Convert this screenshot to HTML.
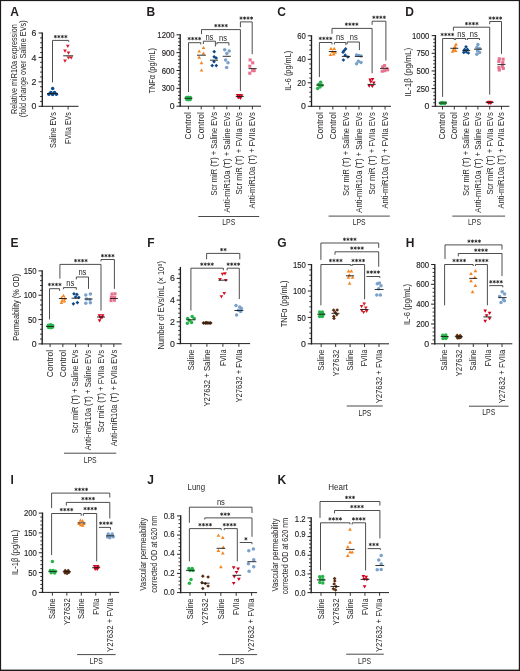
<!DOCTYPE html>
<html><head><meta charset="utf-8"><style>
html,body{margin:0;padding:0;background:#fff;}
svg{display:block;will-change:transform;}
text{font-family:"Liberation Sans",sans-serif;fill:#231f20;}
.tk{stroke:#231f20;stroke-width:0.15px;}
</style></head><body>
<svg width="520" height="671" viewBox="0 0 520 671">
<defs><g id="st" stroke="#231f20" stroke-width="0.8" stroke-linecap="round"><line x1="0" y1="-1.25" x2="0" y2="1.25"/><line x1="-1.1" y1="-0.62" x2="1.1" y2="0.62"/><line x1="-1.1" y1="0.62" x2="1.1" y2="-0.62"/></g></defs>
<rect x="0" y="0" width="520" height="671" fill="#fff"/>
<text x="10.30" y="15.50" font-size="12" font-weight="bold" fill="#000">A</text>
<line x1="42.30" y1="32.40" x2="42.30" y2="106.90" stroke="#231f20" stroke-width="1.35"/>
<line x1="38.60" y1="106.30" x2="42.30" y2="106.30" stroke="#231f20" stroke-width="1.0"/>
<line x1="40.10" y1="101.41" x2="42.30" y2="101.41" stroke="#231f20" stroke-width="0.9"/>
<line x1="40.10" y1="96.53" x2="42.30" y2="96.53" stroke="#231f20" stroke-width="0.9"/>
<line x1="40.10" y1="91.64" x2="42.30" y2="91.64" stroke="#231f20" stroke-width="0.9"/>
<line x1="40.10" y1="86.75" x2="42.30" y2="86.75" stroke="#231f20" stroke-width="0.9"/>
<line x1="38.60" y1="81.87" x2="42.30" y2="81.87" stroke="#231f20" stroke-width="1.0"/>
<line x1="40.10" y1="76.98" x2="42.30" y2="76.98" stroke="#231f20" stroke-width="0.9"/>
<line x1="40.10" y1="72.09" x2="42.30" y2="72.09" stroke="#231f20" stroke-width="0.9"/>
<line x1="40.10" y1="67.21" x2="42.30" y2="67.21" stroke="#231f20" stroke-width="0.9"/>
<line x1="40.10" y1="62.32" x2="42.30" y2="62.32" stroke="#231f20" stroke-width="0.9"/>
<line x1="38.60" y1="57.43" x2="42.30" y2="57.43" stroke="#231f20" stroke-width="1.0"/>
<line x1="40.10" y1="52.55" x2="42.30" y2="52.55" stroke="#231f20" stroke-width="0.9"/>
<line x1="40.10" y1="47.66" x2="42.30" y2="47.66" stroke="#231f20" stroke-width="0.9"/>
<line x1="40.10" y1="42.77" x2="42.30" y2="42.77" stroke="#231f20" stroke-width="0.9"/>
<line x1="40.10" y1="37.89" x2="42.30" y2="37.89" stroke="#231f20" stroke-width="0.9"/>
<line x1="38.60" y1="33.00" x2="42.30" y2="33.00" stroke="#231f20" stroke-width="1.0"/>
<text x="36.30" y="109.40" font-size="8.8" text-anchor="end" textLength="4.89" lengthAdjust="spacingAndGlyphs" class="tk">0</text>
<text x="36.30" y="84.97" font-size="8.8" text-anchor="end" textLength="4.89" lengthAdjust="spacingAndGlyphs" class="tk">2</text>
<text x="36.30" y="60.53" font-size="8.8" text-anchor="end" textLength="4.89" lengthAdjust="spacingAndGlyphs" class="tk">4</text>
<text x="36.30" y="36.10" font-size="8.8" text-anchor="end" textLength="4.89" lengthAdjust="spacingAndGlyphs" class="tk">6</text>
<line x1="41.80" y1="106.30" x2="78.50" y2="106.30" stroke="#231f20" stroke-width="1.0"/>
<line x1="52.70" y1="106.30" x2="52.70" y2="109.50" stroke="#231f20" stroke-width="0.9"/>
<line x1="68.10" y1="106.30" x2="68.10" y2="109.50" stroke="#231f20" stroke-width="0.9"/>
<text transform="translate(55.55,112.20) rotate(-90)" font-size="8.2" text-anchor="end" textLength="35.70" lengthAdjust="spacingAndGlyphs">Saline EVs</text>
<text transform="translate(70.95,112.20) rotate(-90)" font-size="8.2" text-anchor="end" textLength="31.70" lengthAdjust="spacingAndGlyphs">FVIIa EVs</text>
<text transform="translate(16.60,69.10) rotate(-90)" font-size="8.9" text-anchor="middle" textLength="89.90" lengthAdjust="spacingAndGlyphs">Relative miR10a expression</text>
<text transform="translate(26.40,68.80) rotate(-90)" font-size="8.9" text-anchor="middle" textLength="96.90" lengthAdjust="spacingAndGlyphs">(fold change over Saline EVs)</text>
<polyline points="52.50,82.40 52.50,40.40 68.70,40.40 68.70,41.90" fill="none" stroke="#3a3a3a" stroke-width="0.9" stroke-linejoin="miter"/>
<use href="#st" x="55.35" y="36.60"/>
<use href="#st" x="58.85" y="36.60"/>
<use href="#st" x="62.35" y="36.60"/>
<use href="#st" x="65.85" y="36.60"/>
<circle cx="52.70" cy="88.50" r="1.75" fill="#0d4a8a"/>
<circle cx="48.90" cy="94.30" r="1.75" fill="#0d4a8a"/>
<circle cx="50.90" cy="92.40" r="1.75" fill="#0d4a8a"/>
<circle cx="52.60" cy="94.60" r="1.75" fill="#0d4a8a"/>
<circle cx="54.50" cy="92.40" r="1.75" fill="#0d4a8a"/>
<circle cx="56.40" cy="94.30" r="1.75" fill="#0d4a8a"/>
<line x1="47.10" y1="93.50" x2="57.70" y2="93.50" stroke="#1a1a1a" stroke-width="0.9"/>
<path d="M67.80,48.02 L69.65,44.82 L65.95,44.82Z" fill="#d7192b"/>
<path d="M65.00,52.72 L66.85,49.52 L63.15,49.52Z" fill="#d7192b"/>
<path d="M68.50,54.72 L70.35,51.52 L66.65,51.52Z" fill="#d7192b"/>
<path d="M68.50,59.62 L70.35,56.42 L66.65,56.42Z" fill="#d7192b"/>
<path d="M71.20,59.62 L73.05,56.42 L69.35,56.42Z" fill="#d7192b"/>
<path d="M65.00,62.72 L66.85,59.52 L63.15,59.52Z" fill="#d7192b"/>
<line x1="63.20" y1="55.80" x2="73.20" y2="55.80" stroke="#1a1a1a" stroke-width="0.9"/>
<text x="146.60" y="15.50" font-size="12" font-weight="bold" fill="#000">B</text>
<line x1="180.20" y1="34.20" x2="180.20" y2="106.80" stroke="#231f20" stroke-width="1.35"/>
<line x1="176.50" y1="106.20" x2="180.20" y2="106.20" stroke="#231f20" stroke-width="1.0"/>
<line x1="178.00" y1="102.63" x2="180.20" y2="102.63" stroke="#231f20" stroke-width="0.9"/>
<line x1="178.00" y1="99.06" x2="180.20" y2="99.06" stroke="#231f20" stroke-width="0.9"/>
<line x1="178.00" y1="95.49" x2="180.20" y2="95.49" stroke="#231f20" stroke-width="0.9"/>
<line x1="178.00" y1="91.92" x2="180.20" y2="91.92" stroke="#231f20" stroke-width="0.9"/>
<line x1="176.50" y1="88.35" x2="180.20" y2="88.35" stroke="#231f20" stroke-width="1.0"/>
<line x1="178.00" y1="84.78" x2="180.20" y2="84.78" stroke="#231f20" stroke-width="0.9"/>
<line x1="178.00" y1="81.21" x2="180.20" y2="81.21" stroke="#231f20" stroke-width="0.9"/>
<line x1="178.00" y1="77.64" x2="180.20" y2="77.64" stroke="#231f20" stroke-width="0.9"/>
<line x1="178.00" y1="74.07" x2="180.20" y2="74.07" stroke="#231f20" stroke-width="0.9"/>
<line x1="176.50" y1="70.50" x2="180.20" y2="70.50" stroke="#231f20" stroke-width="1.0"/>
<line x1="178.00" y1="66.93" x2="180.20" y2="66.93" stroke="#231f20" stroke-width="0.9"/>
<line x1="178.00" y1="63.36" x2="180.20" y2="63.36" stroke="#231f20" stroke-width="0.9"/>
<line x1="178.00" y1="59.79" x2="180.20" y2="59.79" stroke="#231f20" stroke-width="0.9"/>
<line x1="178.00" y1="56.22" x2="180.20" y2="56.22" stroke="#231f20" stroke-width="0.9"/>
<line x1="176.50" y1="52.65" x2="180.20" y2="52.65" stroke="#231f20" stroke-width="1.0"/>
<line x1="178.00" y1="49.08" x2="180.20" y2="49.08" stroke="#231f20" stroke-width="0.9"/>
<line x1="178.00" y1="45.51" x2="180.20" y2="45.51" stroke="#231f20" stroke-width="0.9"/>
<line x1="178.00" y1="41.94" x2="180.20" y2="41.94" stroke="#231f20" stroke-width="0.9"/>
<line x1="178.00" y1="38.37" x2="180.20" y2="38.37" stroke="#231f20" stroke-width="0.9"/>
<line x1="176.50" y1="34.80" x2="180.20" y2="34.80" stroke="#231f20" stroke-width="1.0"/>
<text x="174.60" y="109.30" font-size="8.8" text-anchor="end" textLength="4.89" lengthAdjust="spacingAndGlyphs" class="tk">0</text>
<text x="174.60" y="91.45" font-size="8.8" text-anchor="end" textLength="12.92" lengthAdjust="spacingAndGlyphs" class="tk">300</text>
<text x="174.60" y="73.60" font-size="8.8" text-anchor="end" textLength="12.92" lengthAdjust="spacingAndGlyphs" class="tk">600</text>
<text x="174.60" y="55.75" font-size="8.8" text-anchor="end" textLength="12.92" lengthAdjust="spacingAndGlyphs" class="tk">900</text>
<text x="174.60" y="37.90" font-size="8.8" text-anchor="end" textLength="17.23" lengthAdjust="spacingAndGlyphs" class="tk">1200</text>
<line x1="179.70" y1="106.20" x2="261.00" y2="106.20" stroke="#231f20" stroke-width="1.0"/>
<line x1="188.40" y1="106.20" x2="188.40" y2="109.40" stroke="#231f20" stroke-width="0.9"/>
<line x1="201.20" y1="106.20" x2="201.20" y2="109.40" stroke="#231f20" stroke-width="0.9"/>
<line x1="214.00" y1="106.20" x2="214.00" y2="109.40" stroke="#231f20" stroke-width="0.9"/>
<line x1="226.80" y1="106.20" x2="226.80" y2="109.40" stroke="#231f20" stroke-width="0.9"/>
<line x1="239.60" y1="106.20" x2="239.60" y2="109.40" stroke="#231f20" stroke-width="0.9"/>
<line x1="252.40" y1="106.20" x2="252.40" y2="109.40" stroke="#231f20" stroke-width="0.9"/>
<text transform="translate(191.25,112.10) rotate(-90)" font-size="8.2" text-anchor="end" textLength="27.40" lengthAdjust="spacingAndGlyphs">Control</text>
<text transform="translate(204.05,112.10) rotate(-90)" font-size="8.2" text-anchor="end" textLength="27.40" lengthAdjust="spacingAndGlyphs">Control</text>
<text transform="translate(216.85,112.10) rotate(-90)" font-size="8.2" text-anchor="end" textLength="83.50" lengthAdjust="spacingAndGlyphs">Scr miR (T) + Saline EVs</text>
<text transform="translate(229.65,112.10) rotate(-90)" font-size="8.2" text-anchor="end" textLength="100.50" lengthAdjust="spacingAndGlyphs">Anti-miR10a (T) + Saline EVs</text>
<text transform="translate(242.45,112.10) rotate(-90)" font-size="8.2" text-anchor="end" textLength="82.40" lengthAdjust="spacingAndGlyphs">Scr miR (T) + FVIIa EVs</text>
<text transform="translate(255.25,112.10) rotate(-90)" font-size="8.2" text-anchor="end" textLength="96.40" lengthAdjust="spacingAndGlyphs">Anti-miR10a (T) + FVIIa EVs</text>
<text transform="translate(154.80,70.70) rotate(-90)" font-size="8.9" text-anchor="middle" textLength="45.50" lengthAdjust="spacingAndGlyphs">TNFα (pg/mL)</text>
<polyline points="188.50,92.00 188.50,42.70 200.80,42.70 200.80,44.50" fill="none" stroke="#3a3a3a" stroke-width="0.9" stroke-linejoin="miter"/>
<use href="#st" x="189.15" y="38.60"/>
<use href="#st" x="192.65" y="38.60"/>
<use href="#st" x="196.15" y="38.60"/>
<use href="#st" x="199.65" y="38.60"/>
<polyline points="203.40,44.00 203.40,41.20 215.40,41.20 215.40,46.50" fill="none" stroke="#3a3a3a" stroke-width="0.9" stroke-linejoin="miter"/>
<text x="209.40" y="40.10" font-size="8.6" text-anchor="middle" textLength="8.00" lengthAdjust="spacingAndGlyphs" fill="#444444">ns</text>
<polyline points="216.90,44.50 216.90,42.70 228.90,42.70 228.90,45.50" fill="none" stroke="#3a3a3a" stroke-width="0.9" stroke-linejoin="miter"/>
<text x="223.00" y="41.30" font-size="8.6" text-anchor="middle" textLength="8.00" lengthAdjust="spacingAndGlyphs" fill="#444444">ns</text>
<polyline points="201.50,34.20 201.50,29.60 240.40,29.60 240.40,91.00" fill="none" stroke="#3a3a3a" stroke-width="0.9" stroke-linejoin="miter"/>
<use href="#st" x="215.75" y="25.60"/>
<use href="#st" x="219.25" y="25.60"/>
<use href="#st" x="222.75" y="25.60"/>
<use href="#st" x="226.25" y="25.60"/>
<polyline points="240.40,27.30 240.40,21.90 252.20,21.90 252.20,54.20" fill="none" stroke="#3a3a3a" stroke-width="0.9" stroke-linejoin="miter"/>
<use href="#st" x="241.05" y="18.10"/>
<use href="#st" x="244.55" y="18.10"/>
<use href="#st" x="248.05" y="18.10"/>
<use href="#st" x="251.55" y="18.10"/>
<circle cx="186.60" cy="97.60" r="1.75" fill="#27b34a"/>
<circle cx="188.40" cy="97.30" r="1.75" fill="#27b34a"/>
<circle cx="190.30" cy="97.60" r="1.75" fill="#27b34a"/>
<circle cx="186.80" cy="99.40" r="1.75" fill="#27b34a"/>
<circle cx="188.60" cy="99.80" r="1.75" fill="#27b34a"/>
<circle cx="190.20" cy="99.40" r="1.75" fill="#27b34a"/>
<line x1="184.40" y1="98.30" x2="192.40" y2="98.30" stroke="#1a1a1a" stroke-width="0.9"/>
<path d="M203.50,45.88 L205.35,49.08 L201.65,49.08Z" fill="#f5841f"/>
<path d="M199.20,49.38 L201.05,52.58 L197.35,52.58Z" fill="#f5841f"/>
<path d="M203.50,51.58 L205.35,54.78 L201.65,54.78Z" fill="#f5841f"/>
<path d="M199.20,55.58 L201.05,58.78 L197.35,58.78Z" fill="#f5841f"/>
<path d="M201.50,60.98 L203.35,64.18 L199.65,64.18Z" fill="#f5841f"/>
<path d="M201.50,68.38 L203.35,71.58 L199.65,71.58Z" fill="#f5841f"/>
<line x1="197.00" y1="55.20" x2="205.80" y2="55.20" stroke="#1a1a1a" stroke-width="0.9"/>
<path d="M214.20,49.85 L216.05,51.70 L214.20,53.55 L212.35,51.70Z" fill="#0d4a8a"/>
<path d="M214.20,54.95 L216.05,56.80 L214.20,58.65 L212.35,56.80Z" fill="#0d4a8a"/>
<path d="M216.20,56.15 L218.05,58.00 L216.20,59.85 L214.35,58.00Z" fill="#0d4a8a"/>
<path d="M214.00,59.85 L215.85,61.70 L214.00,63.55 L212.15,61.70Z" fill="#0d4a8a"/>
<path d="M212.20,63.75 L214.05,65.60 L212.20,67.45 L210.35,65.60Z" fill="#0d4a8a"/>
<path d="M216.30,63.75 L218.15,65.60 L216.30,67.45 L214.45,65.60Z" fill="#0d4a8a"/>
<line x1="210.00" y1="60.20" x2="218.00" y2="60.20" stroke="#1a1a1a" stroke-width="0.9"/>
<circle cx="224.70" cy="49.80" r="1.75" fill="#7aa1ca"/>
<circle cx="229.20" cy="51.00" r="1.75" fill="#7aa1ca"/>
<circle cx="226.80" cy="53.40" r="1.75" fill="#7aa1ca"/>
<circle cx="225.60" cy="60.10" r="1.75" fill="#7aa1ca"/>
<circle cx="228.00" cy="62.80" r="1.75" fill="#7aa1ca"/>
<circle cx="226.70" cy="67.50" r="1.75" fill="#7aa1ca"/>
<line x1="222.70" y1="56.30" x2="230.80" y2="56.30" stroke="#1a1a1a" stroke-width="0.9"/>
<path d="M237.60,97.32 L239.45,94.12 L235.75,94.12Z" fill="#d0021b"/>
<path d="M239.60,97.12 L241.45,93.92 L237.75,93.92Z" fill="#d0021b"/>
<path d="M241.60,97.52 L243.45,94.32 L239.75,94.32Z" fill="#d0021b"/>
<path d="M238.30,99.52 L240.15,96.32 L236.45,96.32Z" fill="#d0021b"/>
<path d="M240.40,99.92 L242.25,96.72 L238.55,96.72Z" fill="#d0021b"/>
<path d="M239.20,98.82 L241.05,95.62 L237.35,95.62Z" fill="#d0021b"/>
<line x1="235.80" y1="96.50" x2="243.70" y2="96.50" stroke="#1a1a1a" stroke-width="0.9"/>
<rect x="248.55" y="58.35" width="3.10" height="3.10" fill="#e8718d"/>
<rect x="251.15" y="61.25" width="3.10" height="3.10" fill="#e8718d"/>
<rect x="248.25" y="64.65" width="3.10" height="3.10" fill="#e8718d"/>
<rect x="252.65" y="69.05" width="3.10" height="3.10" fill="#e8718d"/>
<rect x="251.15" y="69.05" width="3.10" height="3.10" fill="#e8718d"/>
<rect x="248.25" y="71.65" width="3.10" height="3.10" fill="#e8718d"/>
<line x1="248.60" y1="68.60" x2="256.70" y2="68.60" stroke="#1a1a1a" stroke-width="0.9"/>
<line x1="198.30" y1="216.50" x2="259.20" y2="216.50" stroke="#4a4a4a" stroke-width="1.0"/>
<text x="228.80" y="225.30" font-size="8.2" text-anchor="middle" textLength="13.00" lengthAdjust="spacingAndGlyphs">LPS</text>
<text x="277.30" y="15.50" font-size="12" font-weight="bold" fill="#000">C</text>
<line x1="311.50" y1="35.20" x2="311.50" y2="106.90" stroke="#231f20" stroke-width="1.35"/>
<line x1="307.80" y1="106.30" x2="311.50" y2="106.30" stroke="#231f20" stroke-width="1.0"/>
<line x1="309.30" y1="101.60" x2="311.50" y2="101.60" stroke="#231f20" stroke-width="0.9"/>
<line x1="309.30" y1="96.90" x2="311.50" y2="96.90" stroke="#231f20" stroke-width="0.9"/>
<line x1="309.30" y1="92.20" x2="311.50" y2="92.20" stroke="#231f20" stroke-width="0.9"/>
<line x1="309.30" y1="87.50" x2="311.50" y2="87.50" stroke="#231f20" stroke-width="0.9"/>
<line x1="307.80" y1="82.80" x2="311.50" y2="82.80" stroke="#231f20" stroke-width="1.0"/>
<line x1="309.30" y1="78.10" x2="311.50" y2="78.10" stroke="#231f20" stroke-width="0.9"/>
<line x1="309.30" y1="73.40" x2="311.50" y2="73.40" stroke="#231f20" stroke-width="0.9"/>
<line x1="309.30" y1="68.70" x2="311.50" y2="68.70" stroke="#231f20" stroke-width="0.9"/>
<line x1="309.30" y1="64.00" x2="311.50" y2="64.00" stroke="#231f20" stroke-width="0.9"/>
<line x1="307.80" y1="59.30" x2="311.50" y2="59.30" stroke="#231f20" stroke-width="1.0"/>
<line x1="309.30" y1="54.60" x2="311.50" y2="54.60" stroke="#231f20" stroke-width="0.9"/>
<line x1="309.30" y1="49.90" x2="311.50" y2="49.90" stroke="#231f20" stroke-width="0.9"/>
<line x1="309.30" y1="45.20" x2="311.50" y2="45.20" stroke="#231f20" stroke-width="0.9"/>
<line x1="309.30" y1="40.50" x2="311.50" y2="40.50" stroke="#231f20" stroke-width="0.9"/>
<line x1="307.80" y1="35.80" x2="311.50" y2="35.80" stroke="#231f20" stroke-width="1.0"/>
<text x="305.90" y="109.40" font-size="8.8" text-anchor="end" textLength="4.89" lengthAdjust="spacingAndGlyphs" class="tk">0</text>
<text x="305.90" y="85.90" font-size="8.8" text-anchor="end" textLength="8.61" lengthAdjust="spacingAndGlyphs" class="tk">20</text>
<text x="305.90" y="62.40" font-size="8.8" text-anchor="end" textLength="8.61" lengthAdjust="spacingAndGlyphs" class="tk">40</text>
<text x="305.90" y="38.90" font-size="8.8" text-anchor="end" textLength="8.61" lengthAdjust="spacingAndGlyphs" class="tk">60</text>
<line x1="311.00" y1="106.30" x2="391.00" y2="106.30" stroke="#231f20" stroke-width="1.0"/>
<line x1="319.80" y1="106.30" x2="319.80" y2="109.50" stroke="#231f20" stroke-width="0.9"/>
<line x1="332.85" y1="106.30" x2="332.85" y2="109.50" stroke="#231f20" stroke-width="0.9"/>
<line x1="345.90" y1="106.30" x2="345.90" y2="109.50" stroke="#231f20" stroke-width="0.9"/>
<line x1="358.95" y1="106.30" x2="358.95" y2="109.50" stroke="#231f20" stroke-width="0.9"/>
<line x1="372.00" y1="106.30" x2="372.00" y2="109.50" stroke="#231f20" stroke-width="0.9"/>
<line x1="385.05" y1="106.30" x2="385.05" y2="109.50" stroke="#231f20" stroke-width="0.9"/>
<text transform="translate(322.65,112.20) rotate(-90)" font-size="8.2" text-anchor="end" textLength="27.40" lengthAdjust="spacingAndGlyphs">Control</text>
<text transform="translate(335.70,112.20) rotate(-90)" font-size="8.2" text-anchor="end" textLength="27.40" lengthAdjust="spacingAndGlyphs">Control</text>
<text transform="translate(348.75,112.20) rotate(-90)" font-size="8.2" text-anchor="end" textLength="83.50" lengthAdjust="spacingAndGlyphs">Scr miR (T) + Saline EVs</text>
<text transform="translate(361.80,112.20) rotate(-90)" font-size="8.2" text-anchor="end" textLength="100.50" lengthAdjust="spacingAndGlyphs">Anti-miR10a (T) + Saline EVs</text>
<text transform="translate(374.85,112.20) rotate(-90)" font-size="8.2" text-anchor="end" textLength="82.40" lengthAdjust="spacingAndGlyphs">Scr miR (T) + FVIIa EVs</text>
<text transform="translate(387.90,112.20) rotate(-90)" font-size="8.2" text-anchor="end" textLength="96.40" lengthAdjust="spacingAndGlyphs">Anti-miR10a (T) + FVIIa EVs</text>
<text transform="translate(290.70,70.80) rotate(-90)" font-size="8.9" text-anchor="middle" textLength="39.90" lengthAdjust="spacingAndGlyphs">IL-6 (pg/mL)</text>
<polyline points="319.40,77.10 319.40,42.50 332.00,42.50 332.00,44.40" fill="none" stroke="#3a3a3a" stroke-width="0.9" stroke-linejoin="miter"/>
<use href="#st" x="320.25" y="38.40"/>
<use href="#st" x="323.75" y="38.40"/>
<use href="#st" x="327.25" y="38.40"/>
<use href="#st" x="330.75" y="38.40"/>
<polyline points="334.40,44.40 334.40,42.50 345.90,42.50 345.90,45.20" fill="none" stroke="#3a3a3a" stroke-width="0.9" stroke-linejoin="miter"/>
<text x="340.10" y="40.20" font-size="8.6" text-anchor="middle" textLength="8.00" lengthAdjust="spacingAndGlyphs" fill="#444444">ns</text>
<polyline points="347.20,44.20 347.20,42.00 359.40,42.00 359.40,50.10" fill="none" stroke="#3a3a3a" stroke-width="0.9" stroke-linejoin="miter"/>
<text x="353.80" y="40.20" font-size="8.6" text-anchor="middle" textLength="8.00" lengthAdjust="spacingAndGlyphs" fill="#444444">ns</text>
<polyline points="332.00,33.80 332.00,28.40 372.10,28.40 372.10,73.30" fill="none" stroke="#3a3a3a" stroke-width="0.9" stroke-linejoin="miter"/>
<use href="#st" x="346.35" y="24.20"/>
<use href="#st" x="349.85" y="24.20"/>
<use href="#st" x="353.35" y="24.20"/>
<use href="#st" x="356.85" y="24.20"/>
<polyline points="372.10,24.80 372.10,21.20 385.90,21.20 385.90,60.60" fill="none" stroke="#3a3a3a" stroke-width="0.9" stroke-linejoin="miter"/>
<use href="#st" x="373.85" y="17.30"/>
<use href="#st" x="377.35" y="17.30"/>
<use href="#st" x="380.85" y="17.30"/>
<use href="#st" x="384.35" y="17.30"/>
<circle cx="320.60" cy="82.30" r="1.75" fill="#27b34a"/>
<circle cx="318.60" cy="84.40" r="1.75" fill="#27b34a"/>
<circle cx="322.00" cy="85.20" r="1.75" fill="#27b34a"/>
<circle cx="320.00" cy="86.90" r="1.75" fill="#27b34a"/>
<circle cx="317.60" cy="88.60" r="1.75" fill="#27b34a"/>
<circle cx="319.20" cy="85.00" r="1.75" fill="#27b34a"/>
<line x1="316.20" y1="85.10" x2="323.80" y2="85.10" stroke="#1a1a1a" stroke-width="0.9"/>
<path d="M331.00,46.68 L332.85,49.88 L329.15,49.88Z" fill="#f5841f"/>
<path d="M334.20,46.68 L336.05,49.88 L332.35,49.88Z" fill="#f5841f"/>
<path d="M330.40,52.88 L332.25,56.08 L328.55,56.08Z" fill="#f5841f"/>
<path d="M333.60,52.28 L335.45,55.48 L331.75,55.48Z" fill="#f5841f"/>
<path d="M335.20,50.48 L337.05,53.68 L333.35,53.68Z" fill="#f5841f"/>
<path d="M332.60,50.08 L334.45,53.28 L330.75,53.28Z" fill="#f5841f"/>
<line x1="328.80" y1="51.50" x2="336.60" y2="51.50" stroke="#1a1a1a" stroke-width="0.9"/>
<path d="M345.60,47.05 L347.45,48.90 L345.60,50.75 L343.75,48.90Z" fill="#0d4a8a"/>
<path d="M344.20,48.75 L346.05,50.60 L344.20,52.45 L342.35,50.60Z" fill="#0d4a8a"/>
<path d="M343.00,50.35 L344.85,52.20 L343.00,54.05 L341.15,52.20Z" fill="#0d4a8a"/>
<path d="M345.20,53.35 L347.05,55.20 L345.20,57.05 L343.35,55.20Z" fill="#0d4a8a"/>
<path d="M347.90,55.15 L349.75,57.00 L347.90,58.85 L346.05,57.00Z" fill="#0d4a8a"/>
<path d="M343.40,58.15 L345.25,60.00 L343.40,61.85 L341.55,60.00Z" fill="#0d4a8a"/>
<line x1="341.80" y1="56.40" x2="350.00" y2="56.40" stroke="#1a1a1a" stroke-width="0.9"/>
<circle cx="356.60" cy="55.00" r="1.75" fill="#7aa1ca"/>
<circle cx="359.00" cy="55.60" r="1.75" fill="#7aa1ca"/>
<circle cx="361.00" cy="55.90" r="1.75" fill="#7aa1ca"/>
<circle cx="358.40" cy="61.20" r="1.75" fill="#7aa1ca"/>
<circle cx="361.00" cy="62.50" r="1.75" fill="#7aa1ca"/>
<circle cx="356.60" cy="63.80" r="1.75" fill="#7aa1ca"/>
<line x1="354.80" y1="56.40" x2="362.80" y2="56.40" stroke="#1a1a1a" stroke-width="0.9"/>
<path d="M370.20,81.72 L372.05,78.52 L368.35,78.52Z" fill="#d0021b"/>
<path d="M372.60,81.12 L374.45,77.92 L370.75,77.92Z" fill="#d0021b"/>
<path d="M370.80,83.62 L372.65,80.42 L368.95,80.42Z" fill="#d0021b"/>
<path d="M373.80,84.82 L375.65,81.62 L371.95,81.62Z" fill="#d0021b"/>
<path d="M369.20,87.82 L371.05,84.62 L367.35,84.62Z" fill="#d0021b"/>
<path d="M372.30,88.12 L374.15,84.92 L370.45,84.92Z" fill="#d0021b"/>
<line x1="367.70" y1="84.40" x2="375.70" y2="84.40" stroke="#1a1a1a" stroke-width="0.9"/>
<rect x="383.05" y="64.05" width="3.10" height="3.10" fill="#e8718d"/>
<rect x="381.25" y="65.25" width="3.10" height="3.10" fill="#e8718d"/>
<rect x="385.55" y="67.25" width="3.10" height="3.10" fill="#e8718d"/>
<rect x="380.65" y="69.65" width="3.10" height="3.10" fill="#e8718d"/>
<rect x="383.05" y="69.15" width="3.10" height="3.10" fill="#e8718d"/>
<rect x="386.05" y="68.25" width="3.10" height="3.10" fill="#e8718d"/>
<line x1="380.00" y1="68.40" x2="388.00" y2="68.40" stroke="#1a1a1a" stroke-width="0.9"/>
<line x1="328.60" y1="216.10" x2="389.80" y2="216.10" stroke="#4a4a4a" stroke-width="1.0"/>
<text x="359.20" y="225.00" font-size="8.2" text-anchor="middle" textLength="13.00" lengthAdjust="spacingAndGlyphs">LPS</text>
<text x="405.30" y="15.50" font-size="12" font-weight="bold" fill="#000">D</text>
<line x1="435.40" y1="35.00" x2="435.40" y2="106.90" stroke="#231f20" stroke-width="1.35"/>
<line x1="431.70" y1="106.30" x2="435.40" y2="106.30" stroke="#231f20" stroke-width="1.0"/>
<line x1="433.20" y1="102.77" x2="435.40" y2="102.77" stroke="#231f20" stroke-width="0.9"/>
<line x1="433.20" y1="99.23" x2="435.40" y2="99.23" stroke="#231f20" stroke-width="0.9"/>
<line x1="433.20" y1="95.69" x2="435.40" y2="95.69" stroke="#231f20" stroke-width="0.9"/>
<line x1="433.20" y1="92.16" x2="435.40" y2="92.16" stroke="#231f20" stroke-width="0.9"/>
<line x1="431.70" y1="88.62" x2="435.40" y2="88.62" stroke="#231f20" stroke-width="1.0"/>
<line x1="433.20" y1="85.09" x2="435.40" y2="85.09" stroke="#231f20" stroke-width="0.9"/>
<line x1="433.20" y1="81.56" x2="435.40" y2="81.56" stroke="#231f20" stroke-width="0.9"/>
<line x1="433.20" y1="78.02" x2="435.40" y2="78.02" stroke="#231f20" stroke-width="0.9"/>
<line x1="433.20" y1="74.48" x2="435.40" y2="74.48" stroke="#231f20" stroke-width="0.9"/>
<line x1="431.70" y1="70.95" x2="435.40" y2="70.95" stroke="#231f20" stroke-width="1.0"/>
<line x1="433.20" y1="67.42" x2="435.40" y2="67.42" stroke="#231f20" stroke-width="0.9"/>
<line x1="433.20" y1="63.88" x2="435.40" y2="63.88" stroke="#231f20" stroke-width="0.9"/>
<line x1="433.20" y1="60.35" x2="435.40" y2="60.35" stroke="#231f20" stroke-width="0.9"/>
<line x1="433.20" y1="56.81" x2="435.40" y2="56.81" stroke="#231f20" stroke-width="0.9"/>
<line x1="431.70" y1="53.28" x2="435.40" y2="53.28" stroke="#231f20" stroke-width="1.0"/>
<line x1="433.20" y1="49.74" x2="435.40" y2="49.74" stroke="#231f20" stroke-width="0.9"/>
<line x1="433.20" y1="46.21" x2="435.40" y2="46.21" stroke="#231f20" stroke-width="0.9"/>
<line x1="433.20" y1="42.67" x2="435.40" y2="42.67" stroke="#231f20" stroke-width="0.9"/>
<line x1="433.20" y1="39.14" x2="435.40" y2="39.14" stroke="#231f20" stroke-width="0.9"/>
<line x1="431.70" y1="35.60" x2="435.40" y2="35.60" stroke="#231f20" stroke-width="1.0"/>
<text x="429.30" y="109.40" font-size="8.8" text-anchor="end" textLength="4.89" lengthAdjust="spacingAndGlyphs" class="tk">0</text>
<text x="429.30" y="91.72" font-size="8.8" text-anchor="end" textLength="12.92" lengthAdjust="spacingAndGlyphs" class="tk">250</text>
<text x="429.30" y="74.05" font-size="8.8" text-anchor="end" textLength="12.92" lengthAdjust="spacingAndGlyphs" class="tk">500</text>
<text x="429.30" y="56.38" font-size="8.8" text-anchor="end" textLength="12.92" lengthAdjust="spacingAndGlyphs" class="tk">750</text>
<text x="429.30" y="38.70" font-size="8.8" text-anchor="end" textLength="17.23" lengthAdjust="spacingAndGlyphs" class="tk">1000</text>
<line x1="434.90" y1="106.30" x2="509.40" y2="106.30" stroke="#231f20" stroke-width="1.0"/>
<line x1="442.50" y1="106.30" x2="442.50" y2="109.50" stroke="#231f20" stroke-width="0.9"/>
<line x1="454.30" y1="106.30" x2="454.30" y2="109.50" stroke="#231f20" stroke-width="0.9"/>
<line x1="466.10" y1="106.30" x2="466.10" y2="109.50" stroke="#231f20" stroke-width="0.9"/>
<line x1="477.90" y1="106.30" x2="477.90" y2="109.50" stroke="#231f20" stroke-width="0.9"/>
<line x1="489.70" y1="106.30" x2="489.70" y2="109.50" stroke="#231f20" stroke-width="0.9"/>
<line x1="501.50" y1="106.30" x2="501.50" y2="109.50" stroke="#231f20" stroke-width="0.9"/>
<text transform="translate(445.35,112.20) rotate(-90)" font-size="8.2" text-anchor="end" textLength="27.40" lengthAdjust="spacingAndGlyphs">Control</text>
<text transform="translate(457.15,112.20) rotate(-90)" font-size="8.2" text-anchor="end" textLength="27.40" lengthAdjust="spacingAndGlyphs">Control</text>
<text transform="translate(468.95,112.20) rotate(-90)" font-size="8.2" text-anchor="end" textLength="83.50" lengthAdjust="spacingAndGlyphs">Scr miR (T) + Saline EVs</text>
<text transform="translate(480.75,112.20) rotate(-90)" font-size="8.2" text-anchor="end" textLength="100.50" lengthAdjust="spacingAndGlyphs">Anti-miR10a (T) + Saline EVs</text>
<text transform="translate(492.55,112.20) rotate(-90)" font-size="8.2" text-anchor="end" textLength="82.40" lengthAdjust="spacingAndGlyphs">Scr miR (T) + FVIIa EVs</text>
<text transform="translate(504.35,112.20) rotate(-90)" font-size="8.2" text-anchor="end" textLength="96.40" lengthAdjust="spacingAndGlyphs">Anti-miR10a (T) + FVIIa EVs</text>
<text transform="translate(410.50,72.30) rotate(-90)" font-size="8.9" text-anchor="middle" textLength="48.90" lengthAdjust="spacingAndGlyphs">IL-1β (pg/mL)</text>
<polyline points="442.60,96.90 442.60,38.50 454.30,38.50 454.30,40.00" fill="none" stroke="#3a3a3a" stroke-width="0.9" stroke-linejoin="miter"/>
<use href="#st" x="442.15" y="34.50"/>
<use href="#st" x="445.65" y="34.50"/>
<use href="#st" x="449.15" y="34.50"/>
<use href="#st" x="452.65" y="34.50"/>
<polyline points="455.40,40.00 455.40,38.50 465.70,38.50 465.70,40.00" fill="none" stroke="#3a3a3a" stroke-width="0.9" stroke-linejoin="miter"/>
<text x="461.20" y="36.80" font-size="8.6" text-anchor="middle" textLength="8.00" lengthAdjust="spacingAndGlyphs" fill="#444444">ns</text>
<polyline points="467.40,40.00 467.40,38.50 479.50,38.50 479.50,40.00" fill="none" stroke="#3a3a3a" stroke-width="0.9" stroke-linejoin="miter"/>
<text x="473.70" y="36.80" font-size="8.6" text-anchor="middle" textLength="8.00" lengthAdjust="spacingAndGlyphs" fill="#444444">ns</text>
<polyline points="453.40,30.80 453.40,27.20 489.70,27.20 489.70,94.60" fill="none" stroke="#3a3a3a" stroke-width="0.9" stroke-linejoin="miter"/>
<use href="#st" x="466.45" y="23.60"/>
<use href="#st" x="469.95" y="23.60"/>
<use href="#st" x="473.45" y="23.60"/>
<use href="#st" x="476.95" y="23.60"/>
<polyline points="489.70,24.20 489.70,21.50 501.50,21.50 501.50,53.80" fill="none" stroke="#3a3a3a" stroke-width="0.9" stroke-linejoin="miter"/>
<use href="#st" x="490.15" y="18.10"/>
<use href="#st" x="493.65" y="18.10"/>
<use href="#st" x="497.15" y="18.10"/>
<use href="#st" x="500.65" y="18.10"/>
<circle cx="440.60" cy="103.10" r="1.75" fill="#27b34a"/>
<circle cx="442.20" cy="102.60" r="1.75" fill="#27b34a"/>
<circle cx="443.80" cy="103.30" r="1.75" fill="#27b34a"/>
<circle cx="445.20" cy="102.80" r="1.75" fill="#27b34a"/>
<circle cx="441.40" cy="103.40" r="1.75" fill="#27b34a"/>
<circle cx="444.60" cy="103.60" r="1.75" fill="#27b34a"/>
<line x1="438.60" y1="103.00" x2="446.60" y2="103.00" stroke="#1a1a1a" stroke-width="0.9"/>
<path d="M456.00,42.48 L457.85,45.68 L454.15,45.68Z" fill="#f5841f"/>
<path d="M455.00,44.68 L456.85,47.88 L453.15,47.88Z" fill="#f5841f"/>
<path d="M454.40,46.38 L456.25,49.58 L452.55,49.58Z" fill="#f5841f"/>
<path d="M453.40,47.98 L455.25,51.18 L451.55,51.18Z" fill="#f5841f"/>
<path d="M452.60,49.48 L454.45,52.68 L450.75,52.68Z" fill="#f5841f"/>
<path d="M455.60,48.68 L457.45,51.88 L453.75,51.88Z" fill="#f5841f"/>
<line x1="450.30" y1="48.30" x2="458.40" y2="48.30" stroke="#1a1a1a" stroke-width="0.9"/>
<path d="M466.00,44.95 L467.85,46.80 L466.00,48.65 L464.15,46.80Z" fill="#0d4a8a"/>
<path d="M464.60,47.75 L466.45,49.60 L464.60,51.45 L462.75,49.60Z" fill="#0d4a8a"/>
<path d="M467.40,47.55 L469.25,49.40 L467.40,51.25 L465.55,49.40Z" fill="#0d4a8a"/>
<path d="M463.80,50.55 L465.65,52.40 L463.80,54.25 L461.95,52.40Z" fill="#0d4a8a"/>
<path d="M466.20,50.15 L468.05,52.00 L466.20,53.85 L464.35,52.00Z" fill="#0d4a8a"/>
<path d="M468.40,51.15 L470.25,53.00 L468.40,54.85 L466.55,53.00Z" fill="#0d4a8a"/>
<line x1="462.20" y1="50.60" x2="470.20" y2="50.60" stroke="#1a1a1a" stroke-width="0.9"/>
<circle cx="477.90" cy="44.60" r="1.75" fill="#7aa1ca"/>
<circle cx="476.90" cy="47.40" r="1.75" fill="#7aa1ca"/>
<circle cx="479.60" cy="48.60" r="1.75" fill="#7aa1ca"/>
<circle cx="477.60" cy="51.00" r="1.75" fill="#7aa1ca"/>
<circle cx="479.60" cy="52.40" r="1.75" fill="#7aa1ca"/>
<circle cx="476.80" cy="54.20" r="1.75" fill="#7aa1ca"/>
<line x1="474.00" y1="49.20" x2="482.00" y2="49.20" stroke="#1a1a1a" stroke-width="0.9"/>
<path d="M488.00,104.22 L489.85,101.02 L486.15,101.02Z" fill="#d0021b"/>
<path d="M489.60,103.92 L491.45,100.72 L487.75,100.72Z" fill="#d0021b"/>
<path d="M491.20,104.32 L493.05,101.12 L489.35,101.12Z" fill="#d0021b"/>
<path d="M488.80,104.92 L490.65,101.72 L486.95,101.72Z" fill="#d0021b"/>
<path d="M490.60,104.92 L492.45,101.72 L488.75,101.72Z" fill="#d0021b"/>
<line x1="485.70" y1="102.40" x2="493.70" y2="102.40" stroke="#1a1a1a" stroke-width="0.9"/>
<rect x="497.75" y="57.25" width="3.10" height="3.10" fill="#e8718d"/>
<rect x="501.55" y="57.65" width="3.10" height="3.10" fill="#e8718d"/>
<rect x="497.35" y="59.95" width="3.10" height="3.10" fill="#e8718d"/>
<rect x="501.25" y="61.05" width="3.10" height="3.10" fill="#e8718d"/>
<rect x="500.75" y="64.75" width="3.10" height="3.10" fill="#e8718d"/>
<rect x="497.35" y="66.05" width="3.10" height="3.10" fill="#e8718d"/>
<rect x="501.75" y="66.85" width="3.10" height="3.10" fill="#e8718d"/>
<rect x="497.75" y="68.45" width="3.10" height="3.10" fill="#e8718d"/>
<line x1="497.40" y1="64.60" x2="505.40" y2="64.60" stroke="#1a1a1a" stroke-width="0.9"/>
<line x1="452.30" y1="216.10" x2="505.10" y2="216.10" stroke="#4a4a4a" stroke-width="1.0"/>
<text x="474.50" y="225.00" font-size="8.2" text-anchor="middle" textLength="13.00" lengthAdjust="spacingAndGlyphs">LPS</text>
<text x="10.40" y="246.70" font-size="12" font-weight="bold" fill="#000">E</text>
<line x1="42.20" y1="270.30" x2="42.20" y2="344.50" stroke="#231f20" stroke-width="1.35"/>
<line x1="38.50" y1="343.90" x2="42.20" y2="343.90" stroke="#231f20" stroke-width="1.0"/>
<line x1="40.00" y1="339.03" x2="42.20" y2="339.03" stroke="#231f20" stroke-width="0.9"/>
<line x1="40.00" y1="334.17" x2="42.20" y2="334.17" stroke="#231f20" stroke-width="0.9"/>
<line x1="40.00" y1="329.30" x2="42.20" y2="329.30" stroke="#231f20" stroke-width="0.9"/>
<line x1="40.00" y1="324.43" x2="42.20" y2="324.43" stroke="#231f20" stroke-width="0.9"/>
<line x1="38.50" y1="319.57" x2="42.20" y2="319.57" stroke="#231f20" stroke-width="1.0"/>
<line x1="40.00" y1="314.70" x2="42.20" y2="314.70" stroke="#231f20" stroke-width="0.9"/>
<line x1="40.00" y1="309.83" x2="42.20" y2="309.83" stroke="#231f20" stroke-width="0.9"/>
<line x1="40.00" y1="304.97" x2="42.20" y2="304.97" stroke="#231f20" stroke-width="0.9"/>
<line x1="40.00" y1="300.10" x2="42.20" y2="300.10" stroke="#231f20" stroke-width="0.9"/>
<line x1="38.50" y1="295.23" x2="42.20" y2="295.23" stroke="#231f20" stroke-width="1.0"/>
<line x1="40.00" y1="290.37" x2="42.20" y2="290.37" stroke="#231f20" stroke-width="0.9"/>
<line x1="40.00" y1="285.50" x2="42.20" y2="285.50" stroke="#231f20" stroke-width="0.9"/>
<line x1="40.00" y1="280.63" x2="42.20" y2="280.63" stroke="#231f20" stroke-width="0.9"/>
<line x1="40.00" y1="275.77" x2="42.20" y2="275.77" stroke="#231f20" stroke-width="0.9"/>
<line x1="38.50" y1="270.90" x2="42.20" y2="270.90" stroke="#231f20" stroke-width="1.0"/>
<text x="36.60" y="347.00" font-size="8.8" text-anchor="end" textLength="4.89" lengthAdjust="spacingAndGlyphs" class="tk">0</text>
<text x="36.60" y="322.67" font-size="8.8" text-anchor="end" textLength="8.61" lengthAdjust="spacingAndGlyphs" class="tk">50</text>
<text x="36.60" y="298.33" font-size="8.8" text-anchor="end" textLength="12.92" lengthAdjust="spacingAndGlyphs" class="tk">100</text>
<text x="36.60" y="274.00" font-size="8.8" text-anchor="end" textLength="12.92" lengthAdjust="spacingAndGlyphs" class="tk">150</text>
<line x1="41.70" y1="343.90" x2="121.70" y2="343.90" stroke="#231f20" stroke-width="1.0"/>
<line x1="50.10" y1="343.90" x2="50.10" y2="347.10" stroke="#231f20" stroke-width="0.9"/>
<line x1="62.85" y1="343.90" x2="62.85" y2="347.10" stroke="#231f20" stroke-width="0.9"/>
<line x1="75.60" y1="343.90" x2="75.60" y2="347.10" stroke="#231f20" stroke-width="0.9"/>
<line x1="88.35" y1="343.90" x2="88.35" y2="347.10" stroke="#231f20" stroke-width="0.9"/>
<line x1="101.10" y1="343.90" x2="101.10" y2="347.10" stroke="#231f20" stroke-width="0.9"/>
<line x1="113.85" y1="343.90" x2="113.85" y2="347.10" stroke="#231f20" stroke-width="0.9"/>
<text transform="translate(52.95,349.80) rotate(-90)" font-size="8.2" text-anchor="end" textLength="27.40" lengthAdjust="spacingAndGlyphs">Control</text>
<text transform="translate(65.70,349.80) rotate(-90)" font-size="8.2" text-anchor="end" textLength="27.40" lengthAdjust="spacingAndGlyphs">Control</text>
<text transform="translate(78.45,349.80) rotate(-90)" font-size="8.2" text-anchor="end" textLength="83.50" lengthAdjust="spacingAndGlyphs">Scr miR (T) + Saline EVs</text>
<text transform="translate(91.20,349.80) rotate(-90)" font-size="8.2" text-anchor="end" textLength="100.50" lengthAdjust="spacingAndGlyphs">Anti-miR10a (T) + Saline EVs</text>
<text transform="translate(103.95,349.80) rotate(-90)" font-size="8.2" text-anchor="end" textLength="82.40" lengthAdjust="spacingAndGlyphs">Scr miR (T) + FVIIa EVs</text>
<text transform="translate(116.70,349.80) rotate(-90)" font-size="8.2" text-anchor="end" textLength="96.40" lengthAdjust="spacingAndGlyphs">Anti-miR10a (T) + FVIIa EVs</text>
<text transform="translate(18.90,307.30) rotate(-90)" font-size="8.9" text-anchor="middle" textLength="66.90" lengthAdjust="spacingAndGlyphs">Permeability (% OD)</text>
<polyline points="49.50,319.50 49.50,288.70 59.60,288.70 59.60,290.90" fill="none" stroke="#3a3a3a" stroke-width="0.9" stroke-linejoin="miter"/>
<use href="#st" x="49.45" y="284.50"/>
<use href="#st" x="52.95" y="284.50"/>
<use href="#st" x="56.45" y="284.50"/>
<use href="#st" x="59.95" y="284.50"/>
<polyline points="63.40,289.20 63.40,287.60 76.30,287.60 76.30,289.70" fill="none" stroke="#3a3a3a" stroke-width="0.9" stroke-linejoin="miter"/>
<text x="70.30" y="285.50" font-size="8.6" text-anchor="middle" textLength="8.00" lengthAdjust="spacingAndGlyphs" fill="#444444">ns</text>
<polyline points="76.30,279.40 76.30,277.00 88.50,277.00 88.50,288.90" fill="none" stroke="#3a3a3a" stroke-width="0.9" stroke-linejoin="miter"/>
<text x="82.40" y="274.90" font-size="8.6" text-anchor="middle" textLength="8.00" lengthAdjust="spacingAndGlyphs" fill="#444444">ns</text>
<polyline points="59.90,278.60 59.90,264.40 101.00,264.40 101.00,310.50" fill="none" stroke="#3a3a3a" stroke-width="0.9" stroke-linejoin="miter"/>
<use href="#st" x="75.55" y="260.60"/>
<use href="#st" x="79.05" y="260.60"/>
<use href="#st" x="82.55" y="260.60"/>
<use href="#st" x="86.05" y="260.60"/>
<polyline points="101.00,261.40 101.00,259.50 114.40,259.50 114.40,288.90" fill="none" stroke="#3a3a3a" stroke-width="0.9" stroke-linejoin="miter"/>
<use href="#st" x="102.45" y="255.70"/>
<use href="#st" x="105.95" y="255.70"/>
<use href="#st" x="109.45" y="255.70"/>
<use href="#st" x="112.95" y="255.70"/>
<circle cx="48.30" cy="325.30" r="1.75" fill="#27b34a"/>
<circle cx="50.60" cy="324.80" r="1.75" fill="#27b34a"/>
<circle cx="52.60" cy="325.60" r="1.75" fill="#27b34a"/>
<circle cx="48.60" cy="327.60" r="1.75" fill="#27b34a"/>
<circle cx="50.80" cy="327.80" r="1.75" fill="#27b34a"/>
<circle cx="52.40" cy="327.30" r="1.75" fill="#27b34a"/>
<line x1="46.10" y1="326.50" x2="54.10" y2="326.50" stroke="#1a1a1a" stroke-width="0.9"/>
<path d="M63.50,293.68 L65.35,296.88 L61.65,296.88Z" fill="#f5841f"/>
<path d="M61.60,295.88 L63.45,299.08 L59.75,299.08Z" fill="#f5841f"/>
<path d="M64.80,296.68 L66.65,299.88 L62.95,299.88Z" fill="#f5841f"/>
<path d="M62.20,298.58 L64.05,301.78 L60.35,301.78Z" fill="#f5841f"/>
<path d="M64.40,299.28 L66.25,302.48 L62.55,302.48Z" fill="#f5841f"/>
<path d="M61.40,300.68 L63.25,303.88 L59.55,303.88Z" fill="#f5841f"/>
<line x1="58.90" y1="298.50" x2="66.90" y2="298.50" stroke="#1a1a1a" stroke-width="0.9"/>
<path d="M74.00,291.95 L75.85,293.80 L74.00,295.65 L72.15,293.80Z" fill="#0d4a8a"/>
<path d="M76.90,292.55 L78.75,294.40 L76.90,296.25 L75.05,294.40Z" fill="#0d4a8a"/>
<path d="M75.60,295.15 L77.45,297.00 L75.60,298.85 L73.75,297.00Z" fill="#0d4a8a"/>
<path d="M78.80,295.55 L80.65,297.40 L78.80,299.25 L76.95,297.40Z" fill="#0d4a8a"/>
<path d="M73.40,301.95 L75.25,303.80 L73.40,305.65 L71.55,303.80Z" fill="#0d4a8a"/>
<path d="M77.40,300.75 L79.25,302.60 L77.40,304.45 L75.55,302.60Z" fill="#0d4a8a"/>
<line x1="71.60" y1="298.20" x2="79.60" y2="298.20" stroke="#1a1a1a" stroke-width="0.9"/>
<circle cx="85.80" cy="295.00" r="1.75" fill="#7aa1ca"/>
<circle cx="90.40" cy="294.00" r="1.75" fill="#7aa1ca"/>
<circle cx="86.60" cy="299.00" r="1.75" fill="#7aa1ca"/>
<circle cx="89.80" cy="299.60" r="1.75" fill="#7aa1ca"/>
<circle cx="85.80" cy="303.20" r="1.75" fill="#7aa1ca"/>
<circle cx="90.40" cy="302.80" r="1.75" fill="#7aa1ca"/>
<line x1="84.50" y1="299.00" x2="92.50" y2="299.00" stroke="#1a1a1a" stroke-width="0.9"/>
<path d="M99.40,317.52 L101.25,314.32 L97.55,314.32Z" fill="#d0021b"/>
<path d="M102.60,317.52 L104.45,314.32 L100.75,314.32Z" fill="#d0021b"/>
<path d="M100.40,319.52 L102.25,316.32 L98.55,316.32Z" fill="#d0021b"/>
<path d="M102.00,319.52 L103.85,316.32 L100.15,316.32Z" fill="#d0021b"/>
<path d="M99.60,322.52 L101.45,319.32 L97.75,319.32Z" fill="#d0021b"/>
<line x1="97.00" y1="317.00" x2="105.00" y2="317.00" stroke="#1a1a1a" stroke-width="0.9"/>
<rect x="110.45" y="292.45" width="3.10" height="3.10" fill="#e8718d"/>
<rect x="113.45" y="292.25" width="3.10" height="3.10" fill="#e8718d"/>
<rect x="109.85" y="295.65" width="3.10" height="3.10" fill="#e8718d"/>
<rect x="113.05" y="295.85" width="3.10" height="3.10" fill="#e8718d"/>
<rect x="109.45" y="299.05" width="3.10" height="3.10" fill="#e8718d"/>
<rect x="112.85" y="298.65" width="3.10" height="3.10" fill="#e8718d"/>
<line x1="109.90" y1="298.50" x2="117.90" y2="298.50" stroke="#1a1a1a" stroke-width="0.9"/>
<line x1="64.00" y1="453.20" x2="116.30" y2="453.20" stroke="#4a4a4a" stroke-width="1.0"/>
<text x="90.20" y="463.00" font-size="8.2" text-anchor="middle" textLength="13.00" lengthAdjust="spacingAndGlyphs">LPS</text>
<text x="147.20" y="246.70" font-size="12" font-weight="bold" fill="#000">F</text>
<line x1="180.40" y1="266.90" x2="180.40" y2="344.20" stroke="#231f20" stroke-width="1.35"/>
<line x1="176.70" y1="343.60" x2="180.40" y2="343.60" stroke="#231f20" stroke-width="1.0"/>
<line x1="178.20" y1="339.25" x2="180.40" y2="339.25" stroke="#231f20" stroke-width="0.9"/>
<line x1="178.20" y1="334.90" x2="180.40" y2="334.90" stroke="#231f20" stroke-width="0.9"/>
<line x1="178.20" y1="330.55" x2="180.40" y2="330.55" stroke="#231f20" stroke-width="0.9"/>
<line x1="178.20" y1="326.21" x2="180.40" y2="326.21" stroke="#231f20" stroke-width="0.9"/>
<line x1="176.70" y1="321.86" x2="180.40" y2="321.86" stroke="#231f20" stroke-width="1.0"/>
<line x1="178.20" y1="317.51" x2="180.40" y2="317.51" stroke="#231f20" stroke-width="0.9"/>
<line x1="178.20" y1="313.16" x2="180.40" y2="313.16" stroke="#231f20" stroke-width="0.9"/>
<line x1="178.20" y1="308.81" x2="180.40" y2="308.81" stroke="#231f20" stroke-width="0.9"/>
<line x1="178.20" y1="304.46" x2="180.40" y2="304.46" stroke="#231f20" stroke-width="0.9"/>
<line x1="176.70" y1="300.11" x2="180.40" y2="300.11" stroke="#231f20" stroke-width="1.0"/>
<line x1="178.20" y1="295.77" x2="180.40" y2="295.77" stroke="#231f20" stroke-width="0.9"/>
<line x1="178.20" y1="291.42" x2="180.40" y2="291.42" stroke="#231f20" stroke-width="0.9"/>
<line x1="178.20" y1="287.07" x2="180.40" y2="287.07" stroke="#231f20" stroke-width="0.9"/>
<line x1="178.20" y1="282.72" x2="180.40" y2="282.72" stroke="#231f20" stroke-width="0.9"/>
<line x1="176.70" y1="278.37" x2="180.40" y2="278.37" stroke="#231f20" stroke-width="1.0"/>
<line x1="178.20" y1="274.02" x2="180.40" y2="274.02" stroke="#231f20" stroke-width="0.9"/>
<line x1="178.20" y1="269.67" x2="180.40" y2="269.67" stroke="#231f20" stroke-width="0.9"/>
<text x="174.80" y="346.70" font-size="8.8" text-anchor="end" textLength="4.89" lengthAdjust="spacingAndGlyphs" class="tk">0</text>
<text x="174.80" y="324.96" font-size="8.8" text-anchor="end" textLength="4.89" lengthAdjust="spacingAndGlyphs" class="tk">2</text>
<text x="174.80" y="303.21" font-size="8.8" text-anchor="end" textLength="4.89" lengthAdjust="spacingAndGlyphs" class="tk">4</text>
<text x="174.80" y="281.47" font-size="8.8" text-anchor="end" textLength="4.89" lengthAdjust="spacingAndGlyphs" class="tk">6</text>
<line x1="179.90" y1="343.60" x2="250.10" y2="343.60" stroke="#231f20" stroke-width="1.0"/>
<line x1="190.90" y1="343.60" x2="190.90" y2="346.80" stroke="#231f20" stroke-width="0.9"/>
<line x1="206.90" y1="343.60" x2="206.90" y2="346.80" stroke="#231f20" stroke-width="0.9"/>
<line x1="222.90" y1="343.60" x2="222.90" y2="346.80" stroke="#231f20" stroke-width="0.9"/>
<line x1="238.90" y1="343.60" x2="238.90" y2="346.80" stroke="#231f20" stroke-width="0.9"/>
<text transform="translate(193.75,349.50) rotate(-90)" font-size="8.2" text-anchor="end" textLength="20.80" lengthAdjust="spacingAndGlyphs">Saline</text>
<text transform="translate(209.75,349.50) rotate(-90)" font-size="8.2" text-anchor="end" textLength="57.10" lengthAdjust="spacingAndGlyphs">Y27632 + Saline</text>
<text transform="translate(225.75,349.50) rotate(-90)" font-size="8.2" text-anchor="end" textLength="16.50" lengthAdjust="spacingAndGlyphs">FVIIa</text>
<text transform="translate(241.75,349.50) rotate(-90)" font-size="8.2" text-anchor="end" textLength="53.10" lengthAdjust="spacingAndGlyphs">Y27632 + FVIIa</text>
<text transform="translate(164.20,305.30) rotate(-90)" font-size="8.9" text-anchor="middle" textLength="88.60" lengthAdjust="spacingAndGlyphs">Number of EVs/mL (× 10⁸)</text>
<polyline points="190.90,310.50 190.90,268.20 223.40,268.20 223.40,270.30" fill="none" stroke="#3a3a3a" stroke-width="0.9" stroke-linejoin="miter"/>
<use href="#st" x="201.75" y="264.20"/>
<use href="#st" x="205.25" y="264.20"/>
<use href="#st" x="208.75" y="264.20"/>
<use href="#st" x="212.25" y="264.20"/>
<polyline points="227.10,270.30 227.10,268.20 239.30,268.20 239.30,299.00" fill="none" stroke="#3a3a3a" stroke-width="0.9" stroke-linejoin="miter"/>
<use href="#st" x="228.15" y="264.20"/>
<use href="#st" x="231.65" y="264.20"/>
<use href="#st" x="235.15" y="264.20"/>
<use href="#st" x="238.65" y="264.20"/>
<polyline points="206.60,259.30 206.60,253.40 239.80,253.40 239.80,259.30" fill="none" stroke="#3a3a3a" stroke-width="0.9" stroke-linejoin="miter"/>
<use href="#st" x="221.55" y="249.60"/>
<use href="#st" x="225.05" y="249.60"/>
<circle cx="187.60" cy="318.60" r="1.75" fill="#27b34a"/>
<circle cx="192.20" cy="316.60" r="1.75" fill="#27b34a"/>
<circle cx="194.20" cy="318.60" r="1.75" fill="#27b34a"/>
<circle cx="189.60" cy="320.40" r="1.75" fill="#27b34a"/>
<circle cx="187.40" cy="323.20" r="1.75" fill="#27b34a"/>
<circle cx="191.60" cy="322.40" r="1.75" fill="#27b34a"/>
<line x1="186.40" y1="319.80" x2="195.40" y2="319.80" stroke="#1a1a1a" stroke-width="0.9"/>
<path d="M203.60,321.06 L205.54,323.00 L203.60,324.94 L201.66,323.00Z" fill="#5b2c0f"/>
<path d="M205.40,321.06 L207.34,323.00 L205.40,324.94 L203.46,323.00Z" fill="#5b2c0f"/>
<path d="M207.20,321.06 L209.14,323.00 L207.20,324.94 L205.26,323.00Z" fill="#5b2c0f"/>
<path d="M209.00,321.06 L210.94,323.00 L209.00,324.94 L207.06,323.00Z" fill="#5b2c0f"/>
<path d="M210.60,321.06 L212.54,323.00 L210.60,324.94 L208.66,323.00Z" fill="#5b2c0f"/>
<path d="M206.30,320.66 L208.24,322.60 L206.30,324.54 L204.36,322.60Z" fill="#5b2c0f"/>
<line x1="202.40" y1="323.00" x2="211.40" y2="323.00" stroke="#1a1a1a" stroke-width="0.9"/>
<path d="M222.50,276.02 L224.35,272.82 L220.65,272.82Z" fill="#d7192b"/>
<path d="M225.00,275.52 L226.85,272.32 L223.15,272.32Z" fill="#d7192b"/>
<path d="M220.00,281.22 L221.85,278.02 L218.15,278.02Z" fill="#d7192b"/>
<path d="M225.80,282.12 L227.65,278.92 L223.95,278.92Z" fill="#d7192b"/>
<path d="M224.20,295.22 L226.05,292.02 L222.35,292.02Z" fill="#d7192b"/>
<path d="M221.40,298.52 L223.25,295.32 L219.55,295.32Z" fill="#d7192b"/>
<line x1="218.40" y1="280.20" x2="227.40" y2="280.20" stroke="#1a1a1a" stroke-width="0.9"/>
<circle cx="236.00" cy="305.60" r="1.75" fill="#7aa1ca"/>
<circle cx="239.80" cy="306.90" r="1.75" fill="#7aa1ca"/>
<circle cx="241.40" cy="308.40" r="1.75" fill="#7aa1ca"/>
<circle cx="238.40" cy="310.30" r="1.75" fill="#7aa1ca"/>
<circle cx="236.60" cy="315.00" r="1.75" fill="#7aa1ca"/>
<circle cx="240.60" cy="311.60" r="1.75" fill="#7aa1ca"/>
<line x1="234.40" y1="310.50" x2="243.40" y2="310.50" stroke="#1a1a1a" stroke-width="0.9"/>
<text x="277.20" y="246.70" font-size="12" font-weight="bold" fill="#000">G</text>
<line x1="311.50" y1="264.00" x2="311.50" y2="344.40" stroke="#231f20" stroke-width="1.35"/>
<line x1="307.80" y1="343.80" x2="311.50" y2="343.80" stroke="#231f20" stroke-width="1.0"/>
<line x1="309.30" y1="338.52" x2="311.50" y2="338.52" stroke="#231f20" stroke-width="0.9"/>
<line x1="309.30" y1="333.24" x2="311.50" y2="333.24" stroke="#231f20" stroke-width="0.9"/>
<line x1="309.30" y1="327.96" x2="311.50" y2="327.96" stroke="#231f20" stroke-width="0.9"/>
<line x1="309.30" y1="322.68" x2="311.50" y2="322.68" stroke="#231f20" stroke-width="0.9"/>
<line x1="307.80" y1="317.40" x2="311.50" y2="317.40" stroke="#231f20" stroke-width="1.0"/>
<line x1="309.30" y1="312.12" x2="311.50" y2="312.12" stroke="#231f20" stroke-width="0.9"/>
<line x1="309.30" y1="306.84" x2="311.50" y2="306.84" stroke="#231f20" stroke-width="0.9"/>
<line x1="309.30" y1="301.56" x2="311.50" y2="301.56" stroke="#231f20" stroke-width="0.9"/>
<line x1="309.30" y1="296.28" x2="311.50" y2="296.28" stroke="#231f20" stroke-width="0.9"/>
<line x1="307.80" y1="291.00" x2="311.50" y2="291.00" stroke="#231f20" stroke-width="1.0"/>
<line x1="309.30" y1="285.72" x2="311.50" y2="285.72" stroke="#231f20" stroke-width="0.9"/>
<line x1="309.30" y1="280.44" x2="311.50" y2="280.44" stroke="#231f20" stroke-width="0.9"/>
<line x1="309.30" y1="275.16" x2="311.50" y2="275.16" stroke="#231f20" stroke-width="0.9"/>
<line x1="309.30" y1="269.88" x2="311.50" y2="269.88" stroke="#231f20" stroke-width="0.9"/>
<line x1="307.80" y1="264.60" x2="311.50" y2="264.60" stroke="#231f20" stroke-width="1.0"/>
<text x="305.90" y="346.90" font-size="8.8" text-anchor="end" textLength="4.89" lengthAdjust="spacingAndGlyphs" class="tk">0</text>
<text x="305.90" y="320.50" font-size="8.8" text-anchor="end" textLength="8.61" lengthAdjust="spacingAndGlyphs" class="tk">50</text>
<text x="305.90" y="294.10" font-size="8.8" text-anchor="end" textLength="12.92" lengthAdjust="spacingAndGlyphs" class="tk">100</text>
<text x="305.90" y="267.70" font-size="8.8" text-anchor="end" textLength="12.92" lengthAdjust="spacingAndGlyphs" class="tk">150</text>
<line x1="311.00" y1="343.80" x2="389.00" y2="343.80" stroke="#231f20" stroke-width="1.0"/>
<line x1="321.20" y1="343.80" x2="321.20" y2="347.00" stroke="#231f20" stroke-width="0.9"/>
<line x1="335.65" y1="343.80" x2="335.65" y2="347.00" stroke="#231f20" stroke-width="0.9"/>
<line x1="350.10" y1="343.80" x2="350.10" y2="347.00" stroke="#231f20" stroke-width="0.9"/>
<line x1="364.55" y1="343.80" x2="364.55" y2="347.00" stroke="#231f20" stroke-width="0.9"/>
<line x1="379.00" y1="343.80" x2="379.00" y2="347.00" stroke="#231f20" stroke-width="0.9"/>
<text transform="translate(324.05,349.70) rotate(-90)" font-size="8.2" text-anchor="end" textLength="20.80" lengthAdjust="spacingAndGlyphs">Saline</text>
<text transform="translate(338.50,349.70) rotate(-90)" font-size="8.2" text-anchor="end" textLength="26.80" lengthAdjust="spacingAndGlyphs">Y27632</text>
<text transform="translate(352.95,349.70) rotate(-90)" font-size="8.2" text-anchor="end" textLength="20.80" lengthAdjust="spacingAndGlyphs">Saline</text>
<text transform="translate(367.40,349.70) rotate(-90)" font-size="8.2" text-anchor="end" textLength="16.50" lengthAdjust="spacingAndGlyphs">FVIIa</text>
<text transform="translate(381.85,349.70) rotate(-90)" font-size="8.2" text-anchor="end" textLength="53.60" lengthAdjust="spacingAndGlyphs">Y27632 + FVIIa</text>
<text transform="translate(286.80,303.90) rotate(-90)" font-size="8.9" text-anchor="middle" textLength="46.70" lengthAdjust="spacingAndGlyphs">TNFα (pg/mL)</text>
<polyline points="320.90,305.30 320.90,264.50 350.90,264.50 350.90,266.00" fill="none" stroke="#3a3a3a" stroke-width="0.9" stroke-linejoin="miter"/>
<use href="#st" x="330.45" y="260.50"/>
<use href="#st" x="333.95" y="260.50"/>
<use href="#st" x="337.45" y="260.50"/>
<use href="#st" x="340.95" y="260.50"/>
<polyline points="352.10,266.00 352.10,264.50 364.60,264.50 364.60,299.30" fill="none" stroke="#3a3a3a" stroke-width="0.9" stroke-linejoin="miter"/>
<use href="#st" x="353.05" y="260.50"/>
<use href="#st" x="356.55" y="260.50"/>
<use href="#st" x="360.05" y="260.50"/>
<use href="#st" x="363.55" y="260.50"/>
<polyline points="366.70,277.00 366.70,276.50 379.90,276.50 379.90,277.80" fill="none" stroke="#3a3a3a" stroke-width="0.9" stroke-linejoin="miter"/>
<use href="#st" x="367.95" y="272.10"/>
<use href="#st" x="371.45" y="272.10"/>
<use href="#st" x="374.95" y="272.10"/>
<use href="#st" x="378.45" y="272.10"/>
<polyline points="335.00,254.70 335.00,251.80 378.70,251.80 378.70,266.70" fill="none" stroke="#3a3a3a" stroke-width="0.9" stroke-linejoin="miter"/>
<use href="#st" x="351.75" y="248.10"/>
<use href="#st" x="355.25" y="248.10"/>
<use href="#st" x="358.75" y="248.10"/>
<use href="#st" x="362.25" y="248.10"/>
<polyline points="320.90,259.90 320.90,243.00 378.70,243.00 378.70,247.90" fill="none" stroke="#3a3a3a" stroke-width="0.9" stroke-linejoin="miter"/>
<use href="#st" x="344.45" y="239.30"/>
<use href="#st" x="347.95" y="239.30"/>
<use href="#st" x="351.45" y="239.30"/>
<use href="#st" x="354.95" y="239.30"/>
<circle cx="319.60" cy="311.90" r="1.75" fill="#27b34a"/>
<circle cx="322.40" cy="311.90" r="1.75" fill="#27b34a"/>
<circle cx="320.40" cy="314.20" r="1.75" fill="#27b34a"/>
<circle cx="323.40" cy="314.20" r="1.75" fill="#27b34a"/>
<circle cx="319.60" cy="316.40" r="1.75" fill="#27b34a"/>
<circle cx="322.40" cy="316.60" r="1.75" fill="#27b34a"/>
<line x1="317.20" y1="314.20" x2="325.20" y2="314.20" stroke="#1a1a1a" stroke-width="0.9"/>
<path d="M333.60,308.35 L335.45,310.20 L333.60,312.05 L331.75,310.20Z" fill="#5b2c0f"/>
<path d="M337.20,308.15 L339.05,310.00 L337.20,311.85 L335.35,310.00Z" fill="#5b2c0f"/>
<path d="M335.20,310.55 L337.05,312.40 L335.20,314.25 L333.35,312.40Z" fill="#5b2c0f"/>
<path d="M336.80,312.75 L338.65,314.60 L336.80,316.45 L334.95,314.60Z" fill="#5b2c0f"/>
<path d="M333.80,314.55 L335.65,316.40 L333.80,318.25 L331.95,316.40Z" fill="#5b2c0f"/>
<path d="M334.00,316.55 L335.85,318.40 L334.00,320.25 L332.15,318.40Z" fill="#5b2c0f"/>
<line x1="331.50" y1="313.30" x2="339.50" y2="313.30" stroke="#1a1a1a" stroke-width="0.9"/>
<path d="M348.60,269.28 L350.45,272.48 L346.75,272.48Z" fill="#f5841f"/>
<path d="M351.40,269.28 L353.25,272.48 L349.55,272.48Z" fill="#f5841f"/>
<path d="M349.40,273.28 L351.25,276.48 L347.55,276.48Z" fill="#f5841f"/>
<path d="M352.60,275.48 L354.45,278.68 L350.75,278.68Z" fill="#f5841f"/>
<path d="M348.40,275.48 L350.25,278.68 L346.55,278.68Z" fill="#f5841f"/>
<path d="M349.60,281.48 L351.45,284.68 L347.75,284.68Z" fill="#f5841f"/>
<line x1="346.00" y1="275.80" x2="354.00" y2="275.80" stroke="#1a1a1a" stroke-width="0.9"/>
<path d="M364.20,305.82 L366.05,302.62 L362.35,302.62Z" fill="#d7192b"/>
<path d="M361.60,308.32 L363.45,305.12 L359.75,305.12Z" fill="#d7192b"/>
<path d="M365.80,309.72 L367.65,306.52 L363.95,306.52Z" fill="#d7192b"/>
<path d="M361.80,312.32 L363.65,309.12 L359.95,309.12Z" fill="#d7192b"/>
<path d="M366.60,312.92 L368.45,309.72 L364.75,309.72Z" fill="#d7192b"/>
<path d="M363.60,314.12 L365.45,310.92 L361.75,310.92Z" fill="#d7192b"/>
<line x1="360.50" y1="309.50" x2="368.50" y2="309.50" stroke="#1a1a1a" stroke-width="0.9"/>
<circle cx="377.30" cy="283.80" r="1.75" fill="#7aa1ca"/>
<circle cx="379.40" cy="283.00" r="1.75" fill="#7aa1ca"/>
<circle cx="381.00" cy="285.80" r="1.75" fill="#7aa1ca"/>
<circle cx="378.60" cy="288.80" r="1.75" fill="#7aa1ca"/>
<circle cx="376.80" cy="295.00" r="1.75" fill="#7aa1ca"/>
<circle cx="380.40" cy="295.00" r="1.75" fill="#7aa1ca"/>
<line x1="374.70" y1="289.50" x2="383.50" y2="289.50" stroke="#1a1a1a" stroke-width="0.9"/>
<line x1="346.70" y1="406.00" x2="382.70" y2="406.00" stroke="#4a4a4a" stroke-width="1.0"/>
<text x="364.90" y="415.60" font-size="8.2" text-anchor="middle" textLength="13.00" lengthAdjust="spacingAndGlyphs">LPS</text>
<text x="405.80" y="246.70" font-size="12" font-weight="bold" fill="#000">H</text>
<line x1="434.80" y1="263.90" x2="434.80" y2="344.40" stroke="#231f20" stroke-width="1.35"/>
<line x1="431.10" y1="343.80" x2="434.80" y2="343.80" stroke="#231f20" stroke-width="1.0"/>
<line x1="432.60" y1="339.84" x2="434.80" y2="339.84" stroke="#231f20" stroke-width="0.9"/>
<line x1="432.60" y1="335.87" x2="434.80" y2="335.87" stroke="#231f20" stroke-width="0.9"/>
<line x1="432.60" y1="331.91" x2="434.80" y2="331.91" stroke="#231f20" stroke-width="0.9"/>
<line x1="432.60" y1="327.94" x2="434.80" y2="327.94" stroke="#231f20" stroke-width="0.9"/>
<line x1="431.10" y1="323.98" x2="434.80" y2="323.98" stroke="#231f20" stroke-width="1.0"/>
<line x1="432.60" y1="320.01" x2="434.80" y2="320.01" stroke="#231f20" stroke-width="0.9"/>
<line x1="432.60" y1="316.05" x2="434.80" y2="316.05" stroke="#231f20" stroke-width="0.9"/>
<line x1="432.60" y1="312.08" x2="434.80" y2="312.08" stroke="#231f20" stroke-width="0.9"/>
<line x1="432.60" y1="308.12" x2="434.80" y2="308.12" stroke="#231f20" stroke-width="0.9"/>
<line x1="431.10" y1="304.15" x2="434.80" y2="304.15" stroke="#231f20" stroke-width="1.0"/>
<line x1="432.60" y1="300.19" x2="434.80" y2="300.19" stroke="#231f20" stroke-width="0.9"/>
<line x1="432.60" y1="296.22" x2="434.80" y2="296.22" stroke="#231f20" stroke-width="0.9"/>
<line x1="432.60" y1="292.25" x2="434.80" y2="292.25" stroke="#231f20" stroke-width="0.9"/>
<line x1="432.60" y1="288.29" x2="434.80" y2="288.29" stroke="#231f20" stroke-width="0.9"/>
<line x1="431.10" y1="284.32" x2="434.80" y2="284.32" stroke="#231f20" stroke-width="1.0"/>
<line x1="432.60" y1="280.36" x2="434.80" y2="280.36" stroke="#231f20" stroke-width="0.9"/>
<line x1="432.60" y1="276.39" x2="434.80" y2="276.39" stroke="#231f20" stroke-width="0.9"/>
<line x1="432.60" y1="272.43" x2="434.80" y2="272.43" stroke="#231f20" stroke-width="0.9"/>
<line x1="432.60" y1="268.47" x2="434.80" y2="268.47" stroke="#231f20" stroke-width="0.9"/>
<line x1="431.10" y1="264.50" x2="434.80" y2="264.50" stroke="#231f20" stroke-width="1.0"/>
<text x="429.20" y="346.90" font-size="8.8" text-anchor="end" textLength="4.89" lengthAdjust="spacingAndGlyphs" class="tk">0</text>
<text x="429.20" y="327.08" font-size="8.8" text-anchor="end" textLength="12.92" lengthAdjust="spacingAndGlyphs" class="tk">200</text>
<text x="429.20" y="307.25" font-size="8.8" text-anchor="end" textLength="12.92" lengthAdjust="spacingAndGlyphs" class="tk">400</text>
<text x="429.20" y="287.43" font-size="8.8" text-anchor="end" textLength="12.92" lengthAdjust="spacingAndGlyphs" class="tk">600</text>
<text x="429.20" y="267.60" font-size="8.8" text-anchor="end" textLength="12.92" lengthAdjust="spacingAndGlyphs" class="tk">800</text>
<line x1="434.30" y1="343.80" x2="512.30" y2="343.80" stroke="#231f20" stroke-width="1.0"/>
<line x1="444.60" y1="343.80" x2="444.60" y2="347.00" stroke="#231f20" stroke-width="0.9"/>
<line x1="458.95" y1="343.80" x2="458.95" y2="347.00" stroke="#231f20" stroke-width="0.9"/>
<line x1="473.30" y1="343.80" x2="473.30" y2="347.00" stroke="#231f20" stroke-width="0.9"/>
<line x1="487.65" y1="343.80" x2="487.65" y2="347.00" stroke="#231f20" stroke-width="0.9"/>
<line x1="502.00" y1="343.80" x2="502.00" y2="347.00" stroke="#231f20" stroke-width="0.9"/>
<text transform="translate(447.45,349.70) rotate(-90)" font-size="8.2" text-anchor="end" textLength="20.80" lengthAdjust="spacingAndGlyphs">Saline</text>
<text transform="translate(461.80,349.70) rotate(-90)" font-size="8.2" text-anchor="end" textLength="26.80" lengthAdjust="spacingAndGlyphs">Y27632</text>
<text transform="translate(476.15,349.70) rotate(-90)" font-size="8.2" text-anchor="end" textLength="20.80" lengthAdjust="spacingAndGlyphs">Saline</text>
<text transform="translate(490.50,349.70) rotate(-90)" font-size="8.2" text-anchor="end" textLength="16.50" lengthAdjust="spacingAndGlyphs">FVIIa</text>
<text transform="translate(504.85,349.70) rotate(-90)" font-size="8.2" text-anchor="end" textLength="53.60" lengthAdjust="spacingAndGlyphs">Y27632 + FVIIa</text>
<text transform="translate(410.20,304.50) rotate(-90)" font-size="8.9" text-anchor="middle" textLength="41.00" lengthAdjust="spacingAndGlyphs">IL-6 (pg/mL)</text>
<polyline points="444.60,305.30 444.60,264.50 473.20,264.50 473.20,266.00" fill="none" stroke="#3a3a3a" stroke-width="0.9" stroke-linejoin="miter"/>
<use href="#st" x="454.05" y="260.50"/>
<use href="#st" x="457.55" y="260.50"/>
<use href="#st" x="461.05" y="260.50"/>
<use href="#st" x="464.55" y="260.50"/>
<polyline points="475.40,266.00 475.40,264.50 487.40,264.50 487.40,305.30" fill="none" stroke="#3a3a3a" stroke-width="0.9" stroke-linejoin="miter"/>
<use href="#st" x="476.35" y="260.50"/>
<use href="#st" x="479.85" y="260.50"/>
<use href="#st" x="483.35" y="260.50"/>
<use href="#st" x="486.85" y="260.50"/>
<polyline points="489.60,286.20 489.60,285.60 502.80,285.60 502.80,287.30" fill="none" stroke="#3a3a3a" stroke-width="0.9" stroke-linejoin="miter"/>
<use href="#st" x="490.75" y="281.80"/>
<use href="#st" x="494.25" y="281.80"/>
<use href="#st" x="497.75" y="281.80"/>
<use href="#st" x="501.25" y="281.80"/>
<polyline points="458.30,256.40 458.30,253.50 502.00,253.50 502.00,276.10" fill="none" stroke="#3a3a3a" stroke-width="0.9" stroke-linejoin="miter"/>
<use href="#st" x="475.75" y="250.20"/>
<use href="#st" x="479.25" y="250.20"/>
<use href="#st" x="482.75" y="250.20"/>
<use href="#st" x="486.25" y="250.20"/>
<polyline points="445.00,259.00 445.00,244.90 502.00,244.90 502.00,249.60" fill="none" stroke="#3a3a3a" stroke-width="0.9" stroke-linejoin="miter"/>
<use href="#st" x="468.95" y="241.20"/>
<use href="#st" x="472.45" y="241.20"/>
<use href="#st" x="475.95" y="241.20"/>
<use href="#st" x="479.45" y="241.20"/>
<circle cx="442.80" cy="335.20" r="1.75" fill="#27b34a"/>
<circle cx="445.80" cy="335.00" r="1.75" fill="#27b34a"/>
<circle cx="444.00" cy="337.00" r="1.75" fill="#27b34a"/>
<circle cx="446.60" cy="337.20" r="1.75" fill="#27b34a"/>
<circle cx="443.00" cy="338.60" r="1.75" fill="#27b34a"/>
<circle cx="445.80" cy="338.60" r="1.75" fill="#27b34a"/>
<line x1="440.60" y1="336.50" x2="448.60" y2="336.50" stroke="#1a1a1a" stroke-width="0.9"/>
<path d="M457.20,333.55 L459.05,335.40 L457.20,337.25 L455.35,335.40Z" fill="#5b2c0f"/>
<path d="M460.20,333.75 L462.05,335.60 L460.20,337.45 L458.35,335.60Z" fill="#5b2c0f"/>
<path d="M458.40,334.95 L460.25,336.80 L458.40,338.65 L456.55,336.80Z" fill="#5b2c0f"/>
<path d="M460.60,335.55 L462.45,337.40 L460.60,339.25 L458.75,337.40Z" fill="#5b2c0f"/>
<path d="M457.40,335.95 L459.25,337.80 L457.40,339.65 L455.55,337.80Z" fill="#5b2c0f"/>
<path d="M459.00,336.15 L460.85,338.00 L459.00,339.85 L457.15,338.00Z" fill="#5b2c0f"/>
<line x1="454.80" y1="336.60" x2="462.80" y2="336.60" stroke="#1a1a1a" stroke-width="0.9"/>
<path d="M471.00,271.68 L472.85,274.88 L469.15,274.88Z" fill="#f5841f"/>
<path d="M475.40,269.08 L477.25,272.28 L473.55,272.28Z" fill="#f5841f"/>
<path d="M474.80,275.58 L476.65,278.78 L472.95,278.78Z" fill="#f5841f"/>
<path d="M471.00,278.98 L472.85,282.18 L469.15,282.18Z" fill="#f5841f"/>
<path d="M475.40,283.68 L477.25,286.88 L473.55,286.88Z" fill="#f5841f"/>
<path d="M472.60,289.98 L474.45,293.18 L470.75,293.18Z" fill="#f5841f"/>
<line x1="469.20" y1="278.40" x2="477.20" y2="278.40" stroke="#1a1a1a" stroke-width="0.9"/>
<path d="M485.20,312.72 L487.05,309.52 L483.35,309.52Z" fill="#d0021b"/>
<path d="M489.60,314.92 L491.45,311.72 L487.75,311.72Z" fill="#d0021b"/>
<path d="M486.60,317.52 L488.45,314.32 L484.75,314.32Z" fill="#d0021b"/>
<path d="M489.60,320.52 L491.45,317.32 L487.75,317.32Z" fill="#d0021b"/>
<path d="M485.20,322.92 L487.05,319.72 L483.35,319.72Z" fill="#d0021b"/>
<line x1="483.40" y1="316.90" x2="491.40" y2="316.90" stroke="#1a1a1a" stroke-width="0.9"/>
<circle cx="502.20" cy="291.80" r="1.75" fill="#7aa1ca"/>
<circle cx="504.60" cy="294.00" r="1.75" fill="#7aa1ca"/>
<circle cx="499.60" cy="296.60" r="1.75" fill="#7aa1ca"/>
<circle cx="503.40" cy="299.60" r="1.75" fill="#7aa1ca"/>
<circle cx="501.00" cy="302.60" r="1.75" fill="#7aa1ca"/>
<circle cx="504.40" cy="300.80" r="1.75" fill="#7aa1ca"/>
<line x1="498.40" y1="297.60" x2="506.60" y2="297.60" stroke="#1a1a1a" stroke-width="0.9"/>
<line x1="469.00" y1="406.20" x2="508.50" y2="406.20" stroke="#4a4a4a" stroke-width="1.0"/>
<text x="488.80" y="415.40" font-size="8.2" text-anchor="middle" textLength="13.00" lengthAdjust="spacingAndGlyphs">LPS</text>
<text x="10.40" y="484.00" font-size="12" font-weight="bold" fill="#000">I</text>
<line x1="42.50" y1="512.50" x2="42.50" y2="593.00" stroke="#231f20" stroke-width="1.35"/>
<line x1="38.80" y1="592.40" x2="42.50" y2="592.40" stroke="#231f20" stroke-width="1.0"/>
<line x1="40.30" y1="588.43" x2="42.50" y2="588.43" stroke="#231f20" stroke-width="0.9"/>
<line x1="40.30" y1="584.47" x2="42.50" y2="584.47" stroke="#231f20" stroke-width="0.9"/>
<line x1="40.30" y1="580.50" x2="42.50" y2="580.50" stroke="#231f20" stroke-width="0.9"/>
<line x1="40.30" y1="576.54" x2="42.50" y2="576.54" stroke="#231f20" stroke-width="0.9"/>
<line x1="38.80" y1="572.58" x2="42.50" y2="572.58" stroke="#231f20" stroke-width="1.0"/>
<line x1="40.30" y1="568.61" x2="42.50" y2="568.61" stroke="#231f20" stroke-width="0.9"/>
<line x1="40.30" y1="564.64" x2="42.50" y2="564.64" stroke="#231f20" stroke-width="0.9"/>
<line x1="40.30" y1="560.68" x2="42.50" y2="560.68" stroke="#231f20" stroke-width="0.9"/>
<line x1="40.30" y1="556.72" x2="42.50" y2="556.72" stroke="#231f20" stroke-width="0.9"/>
<line x1="38.80" y1="552.75" x2="42.50" y2="552.75" stroke="#231f20" stroke-width="1.0"/>
<line x1="40.30" y1="548.78" x2="42.50" y2="548.78" stroke="#231f20" stroke-width="0.9"/>
<line x1="40.30" y1="544.82" x2="42.50" y2="544.82" stroke="#231f20" stroke-width="0.9"/>
<line x1="40.30" y1="540.86" x2="42.50" y2="540.86" stroke="#231f20" stroke-width="0.9"/>
<line x1="40.30" y1="536.89" x2="42.50" y2="536.89" stroke="#231f20" stroke-width="0.9"/>
<line x1="38.80" y1="532.92" x2="42.50" y2="532.92" stroke="#231f20" stroke-width="1.0"/>
<line x1="40.30" y1="528.96" x2="42.50" y2="528.96" stroke="#231f20" stroke-width="0.9"/>
<line x1="40.30" y1="525.00" x2="42.50" y2="525.00" stroke="#231f20" stroke-width="0.9"/>
<line x1="40.30" y1="521.03" x2="42.50" y2="521.03" stroke="#231f20" stroke-width="0.9"/>
<line x1="40.30" y1="517.07" x2="42.50" y2="517.07" stroke="#231f20" stroke-width="0.9"/>
<line x1="38.80" y1="513.10" x2="42.50" y2="513.10" stroke="#231f20" stroke-width="1.0"/>
<text x="36.90" y="595.50" font-size="8.8" text-anchor="end" textLength="4.89" lengthAdjust="spacingAndGlyphs" class="tk">0</text>
<text x="36.90" y="575.68" font-size="8.8" text-anchor="end" textLength="8.61" lengthAdjust="spacingAndGlyphs" class="tk">50</text>
<text x="36.90" y="555.85" font-size="8.8" text-anchor="end" textLength="12.92" lengthAdjust="spacingAndGlyphs" class="tk">100</text>
<text x="36.90" y="536.02" font-size="8.8" text-anchor="end" textLength="12.92" lengthAdjust="spacingAndGlyphs" class="tk">150</text>
<text x="36.90" y="516.20" font-size="8.8" text-anchor="end" textLength="12.92" lengthAdjust="spacingAndGlyphs" class="tk">200</text>
<line x1="42.00" y1="592.40" x2="119.10" y2="592.40" stroke="#231f20" stroke-width="1.0"/>
<line x1="52.40" y1="592.40" x2="52.40" y2="595.60" stroke="#231f20" stroke-width="0.9"/>
<line x1="66.85" y1="592.40" x2="66.85" y2="595.60" stroke="#231f20" stroke-width="0.9"/>
<line x1="81.30" y1="592.40" x2="81.30" y2="595.60" stroke="#231f20" stroke-width="0.9"/>
<line x1="95.75" y1="592.40" x2="95.75" y2="595.60" stroke="#231f20" stroke-width="0.9"/>
<line x1="110.20" y1="592.40" x2="110.20" y2="595.60" stroke="#231f20" stroke-width="0.9"/>
<text transform="translate(55.25,598.30) rotate(-90)" font-size="8.2" text-anchor="end" textLength="20.80" lengthAdjust="spacingAndGlyphs">Saline</text>
<text transform="translate(69.70,598.30) rotate(-90)" font-size="8.2" text-anchor="end" textLength="26.80" lengthAdjust="spacingAndGlyphs">Y27632</text>
<text transform="translate(84.15,598.30) rotate(-90)" font-size="8.2" text-anchor="end" textLength="20.80" lengthAdjust="spacingAndGlyphs">Saline</text>
<text transform="translate(98.60,598.30) rotate(-90)" font-size="8.2" text-anchor="end" textLength="16.50" lengthAdjust="spacingAndGlyphs">FVIIa</text>
<text transform="translate(113.05,598.30) rotate(-90)" font-size="8.2" text-anchor="end" textLength="53.60" lengthAdjust="spacingAndGlyphs">Y27632 + FVIIa</text>
<text transform="translate(18.10,552.40) rotate(-90)" font-size="8.9" text-anchor="middle" textLength="45.20" lengthAdjust="spacingAndGlyphs">IL-1β (pg/mL)</text>
<polyline points="51.60,555.10 51.60,513.50 81.20,513.50 81.20,515.80" fill="none" stroke="#3a3a3a" stroke-width="0.9" stroke-linejoin="miter"/>
<use href="#st" x="61.25" y="509.60"/>
<use href="#st" x="64.75" y="509.60"/>
<use href="#st" x="68.25" y="509.60"/>
<use href="#st" x="71.75" y="509.60"/>
<polyline points="83.30,515.80 83.30,513.50 96.70,513.50 96.70,561.40" fill="none" stroke="#3a3a3a" stroke-width="0.9" stroke-linejoin="miter"/>
<use href="#st" x="85.05" y="508.60"/>
<use href="#st" x="88.55" y="508.60"/>
<use href="#st" x="92.05" y="508.60"/>
<use href="#st" x="95.55" y="508.60"/>
<polyline points="99.00,527.60 99.00,527.40 110.50,527.40 110.50,529.70" fill="none" stroke="#3a3a3a" stroke-width="0.9" stroke-linejoin="miter"/>
<use href="#st" x="100.65" y="523.20"/>
<use href="#st" x="104.15" y="523.20"/>
<use href="#st" x="107.65" y="523.20"/>
<use href="#st" x="111.15" y="523.20"/>
<polyline points="66.30,505.60 66.30,502.40 109.80,502.40 109.80,518.50" fill="none" stroke="#3a3a3a" stroke-width="0.9" stroke-linejoin="miter"/>
<use href="#st" x="82.95" y="498.60"/>
<use href="#st" x="86.45" y="498.60"/>
<use href="#st" x="89.95" y="498.60"/>
<use href="#st" x="93.45" y="498.60"/>
<polyline points="51.60,508.10 51.60,493.10 109.80,493.10 109.80,497.50" fill="none" stroke="#3a3a3a" stroke-width="0.9" stroke-linejoin="miter"/>
<use href="#st" x="76.05" y="489.40"/>
<use href="#st" x="79.55" y="489.40"/>
<use href="#st" x="83.05" y="489.40"/>
<use href="#st" x="86.55" y="489.40"/>
<circle cx="52.40" cy="561.40" r="1.75" fill="#27b34a"/>
<circle cx="50.40" cy="570.60" r="1.75" fill="#27b34a"/>
<circle cx="53.20" cy="570.40" r="1.75" fill="#27b34a"/>
<circle cx="55.60" cy="571.20" r="1.75" fill="#27b34a"/>
<circle cx="51.20" cy="572.80" r="1.75" fill="#27b34a"/>
<circle cx="54.60" cy="573.00" r="1.75" fill="#27b34a"/>
<line x1="48.40" y1="571.60" x2="56.40" y2="571.60" stroke="#1a1a1a" stroke-width="0.9"/>
<path d="M65.20,568.75 L67.05,570.60 L65.20,572.45 L63.35,570.60Z" fill="#5b2c0f"/>
<path d="M68.20,568.75 L70.05,570.60 L68.20,572.45 L66.35,570.60Z" fill="#5b2c0f"/>
<path d="M66.40,570.15 L68.25,572.00 L66.40,573.85 L64.55,572.00Z" fill="#5b2c0f"/>
<path d="M68.80,570.55 L70.65,572.40 L68.80,574.25 L66.95,572.40Z" fill="#5b2c0f"/>
<path d="M65.00,570.95 L66.85,572.80 L65.00,574.65 L63.15,572.80Z" fill="#5b2c0f"/>
<path d="M67.00,571.55 L68.85,573.40 L67.00,575.25 L65.15,573.40Z" fill="#5b2c0f"/>
<line x1="62.80" y1="571.60" x2="70.80" y2="571.60" stroke="#1a1a1a" stroke-width="0.9"/>
<path d="M80.40,518.48 L82.25,521.68 L78.55,521.68Z" fill="#f5841f"/>
<path d="M82.40,519.08 L84.25,522.28 L80.55,522.28Z" fill="#f5841f"/>
<path d="M79.00,521.68 L80.85,524.88 L77.15,524.88Z" fill="#f5841f"/>
<path d="M84.00,521.88 L85.85,525.08 L82.15,525.08Z" fill="#f5841f"/>
<path d="M80.80,523.08 L82.65,526.28 L78.95,526.28Z" fill="#f5841f"/>
<path d="M82.80,523.48 L84.65,526.68 L80.95,526.68Z" fill="#f5841f"/>
<line x1="77.50" y1="522.90" x2="85.50" y2="522.90" stroke="#1a1a1a" stroke-width="0.9"/>
<path d="M94.60,568.12 L96.45,564.92 L92.75,564.92Z" fill="#d0021b"/>
<path d="M97.60,568.12 L99.45,564.92 L95.75,564.92Z" fill="#d0021b"/>
<path d="M95.80,569.72 L97.65,566.52 L93.95,566.52Z" fill="#d0021b"/>
<path d="M98.00,569.52 L99.85,566.32 L96.15,566.32Z" fill="#d0021b"/>
<path d="M95.20,570.92 L97.05,567.72 L93.35,567.72Z" fill="#d0021b"/>
<path d="M97.20,571.12 L99.05,567.92 L95.35,567.92Z" fill="#d0021b"/>
<line x1="92.20" y1="567.70" x2="100.20" y2="567.70" stroke="#1a1a1a" stroke-width="0.9"/>
<circle cx="108.20" cy="534.00" r="1.75" fill="#7aa1ca"/>
<circle cx="112.20" cy="534.00" r="1.75" fill="#7aa1ca"/>
<circle cx="107.60" cy="537.00" r="1.75" fill="#7aa1ca"/>
<circle cx="110.00" cy="536.00" r="1.75" fill="#7aa1ca"/>
<circle cx="113.20" cy="536.80" r="1.75" fill="#7aa1ca"/>
<circle cx="109.80" cy="537.80" r="1.75" fill="#7aa1ca"/>
<line x1="106.10" y1="535.80" x2="114.10" y2="535.80" stroke="#1a1a1a" stroke-width="0.9"/>
<line x1="77.10" y1="654.60" x2="115.60" y2="654.60" stroke="#4a4a4a" stroke-width="1.0"/>
<text x="96.30" y="664.40" font-size="8.2" text-anchor="middle" textLength="13.00" lengthAdjust="spacingAndGlyphs">LPS</text>
<text x="147.20" y="484.00" font-size="12" font-weight="bold" fill="#000">J</text>
<line x1="180.70" y1="515.30" x2="180.70" y2="593.20" stroke="#231f20" stroke-width="1.35"/>
<line x1="177.00" y1="592.60" x2="180.70" y2="592.60" stroke="#231f20" stroke-width="1.0"/>
<line x1="178.50" y1="588.76" x2="180.70" y2="588.76" stroke="#231f20" stroke-width="0.9"/>
<line x1="178.50" y1="584.93" x2="180.70" y2="584.93" stroke="#231f20" stroke-width="0.9"/>
<line x1="178.50" y1="581.10" x2="180.70" y2="581.10" stroke="#231f20" stroke-width="0.9"/>
<line x1="178.50" y1="577.26" x2="180.70" y2="577.26" stroke="#231f20" stroke-width="0.9"/>
<line x1="177.00" y1="573.42" x2="180.70" y2="573.42" stroke="#231f20" stroke-width="1.0"/>
<line x1="178.50" y1="569.59" x2="180.70" y2="569.59" stroke="#231f20" stroke-width="0.9"/>
<line x1="178.50" y1="565.75" x2="180.70" y2="565.75" stroke="#231f20" stroke-width="0.9"/>
<line x1="178.50" y1="561.92" x2="180.70" y2="561.92" stroke="#231f20" stroke-width="0.9"/>
<line x1="178.50" y1="558.09" x2="180.70" y2="558.09" stroke="#231f20" stroke-width="0.9"/>
<line x1="177.00" y1="554.25" x2="180.70" y2="554.25" stroke="#231f20" stroke-width="1.0"/>
<line x1="178.50" y1="550.41" x2="180.70" y2="550.41" stroke="#231f20" stroke-width="0.9"/>
<line x1="178.50" y1="546.58" x2="180.70" y2="546.58" stroke="#231f20" stroke-width="0.9"/>
<line x1="178.50" y1="542.75" x2="180.70" y2="542.75" stroke="#231f20" stroke-width="0.9"/>
<line x1="178.50" y1="538.91" x2="180.70" y2="538.91" stroke="#231f20" stroke-width="0.9"/>
<line x1="177.00" y1="535.08" x2="180.70" y2="535.08" stroke="#231f20" stroke-width="1.0"/>
<line x1="178.50" y1="531.24" x2="180.70" y2="531.24" stroke="#231f20" stroke-width="0.9"/>
<line x1="178.50" y1="527.40" x2="180.70" y2="527.40" stroke="#231f20" stroke-width="0.9"/>
<line x1="178.50" y1="523.57" x2="180.70" y2="523.57" stroke="#231f20" stroke-width="0.9"/>
<line x1="178.50" y1="519.74" x2="180.70" y2="519.74" stroke="#231f20" stroke-width="0.9"/>
<line x1="177.00" y1="515.90" x2="180.70" y2="515.90" stroke="#231f20" stroke-width="1.0"/>
<text x="174.50" y="595.10" font-size="8.8" text-anchor="end" textLength="10.77" lengthAdjust="spacingAndGlyphs" class="tk">0.0</text>
<text x="174.50" y="575.92" font-size="8.8" text-anchor="end" textLength="10.77" lengthAdjust="spacingAndGlyphs" class="tk">0.2</text>
<text x="174.50" y="555.95" font-size="8.8" text-anchor="end" textLength="10.77" lengthAdjust="spacingAndGlyphs" class="tk">0.4</text>
<text x="174.50" y="537.18" font-size="8.8" text-anchor="end" textLength="10.77" lengthAdjust="spacingAndGlyphs" class="tk">0.6</text>
<text x="174.50" y="519.00" font-size="8.8" text-anchor="end" textLength="10.77" lengthAdjust="spacingAndGlyphs" class="tk">0.8</text>
<line x1="180.20" y1="592.60" x2="257.10" y2="592.60" stroke="#231f20" stroke-width="1.0"/>
<line x1="190.00" y1="592.60" x2="190.00" y2="595.80" stroke="#231f20" stroke-width="0.9"/>
<line x1="205.40" y1="592.60" x2="205.40" y2="595.80" stroke="#231f20" stroke-width="0.9"/>
<line x1="220.80" y1="592.60" x2="220.80" y2="595.80" stroke="#231f20" stroke-width="0.9"/>
<line x1="236.20" y1="592.60" x2="236.20" y2="595.80" stroke="#231f20" stroke-width="0.9"/>
<line x1="251.60" y1="592.60" x2="251.60" y2="595.80" stroke="#231f20" stroke-width="0.9"/>
<text transform="translate(192.85,598.50) rotate(-90)" font-size="8.2" text-anchor="end" textLength="20.80" lengthAdjust="spacingAndGlyphs">Saline</text>
<text transform="translate(208.25,598.50) rotate(-90)" font-size="8.2" text-anchor="end" textLength="26.80" lengthAdjust="spacingAndGlyphs">Y27632</text>
<text transform="translate(223.65,598.50) rotate(-90)" font-size="8.2" text-anchor="end" textLength="20.80" lengthAdjust="spacingAndGlyphs">Saline</text>
<text transform="translate(239.05,598.50) rotate(-90)" font-size="8.2" text-anchor="end" textLength="16.50" lengthAdjust="spacingAndGlyphs">FVIIa</text>
<text transform="translate(254.45,598.50) rotate(-90)" font-size="8.2" text-anchor="end" textLength="53.60" lengthAdjust="spacingAndGlyphs">Y27632 + FVIIa</text>
<text transform="translate(146.30,554.20) rotate(-90)" font-size="8.9" text-anchor="middle" textLength="73.00" lengthAdjust="spacingAndGlyphs">Vascular permeability</text>
<text transform="translate(157.40,554.20) rotate(-90)" font-size="8.9" text-anchor="middle" textLength="77.20" lengthAdjust="spacingAndGlyphs">corrected OD at 620 nm</text>
<polyline points="189.40,561.40 189.40,528.60 221.20,528.60 221.20,530.20" fill="none" stroke="#3a3a3a" stroke-width="0.9" stroke-linejoin="miter"/>
<use href="#st" x="199.95" y="524.70"/>
<use href="#st" x="203.45" y="524.70"/>
<use href="#st" x="206.95" y="524.70"/>
<use href="#st" x="210.45" y="524.70"/>
<polyline points="224.20,530.20 224.20,528.60 237.30,528.60 237.30,561.40" fill="none" stroke="#3a3a3a" stroke-width="0.9" stroke-linejoin="miter"/>
<use href="#st" x="224.25" y="524.70"/>
<use href="#st" x="227.75" y="524.70"/>
<use href="#st" x="231.25" y="524.70"/>
<use href="#st" x="234.75" y="524.70"/>
<polyline points="239.70,542.50 252.00,542.50 252.00,544.20" fill="none" stroke="#3a3a3a" stroke-width="0.9" stroke-linejoin="miter"/>
<use href="#st" x="245.90" y="538.80"/>
<polyline points="204.80,519.50 204.80,517.90 252.00,517.90 252.00,536.80" fill="none" stroke="#3a3a3a" stroke-width="0.9" stroke-linejoin="miter"/>
<use href="#st" x="221.70" y="514.20"/>
<use href="#st" x="225.20" y="514.20"/>
<use href="#st" x="228.70" y="514.20"/>
<polyline points="189.40,522.80 189.40,507.20 252.00,507.20 252.00,513.00" fill="none" stroke="#3a3a3a" stroke-width="0.9" stroke-linejoin="miter"/>
<text x="220.90" y="504.90" font-size="8.6" text-anchor="middle" textLength="8.00" lengthAdjust="spacingAndGlyphs" fill="#444444">ns</text>
<circle cx="188.90" cy="568.40" r="1.75" fill="#27b34a"/>
<circle cx="192.20" cy="568.40" r="1.75" fill="#27b34a"/>
<circle cx="190.00" cy="570.40" r="1.75" fill="#27b34a"/>
<circle cx="193.00" cy="570.40" r="1.75" fill="#27b34a"/>
<circle cx="191.00" cy="579.40" r="1.75" fill="#27b34a"/>
<circle cx="189.40" cy="583.20" r="1.75" fill="#27b34a"/>
<line x1="186.00" y1="570.40" x2="194.60" y2="570.40" stroke="#1a1a1a" stroke-width="0.9"/>
<path d="M202.80,574.35 L204.65,576.20 L202.80,578.05 L200.95,576.20Z" fill="#5b2c0f"/>
<path d="M208.10,575.15 L209.95,577.00 L208.10,578.85 L206.25,577.00Z" fill="#5b2c0f"/>
<path d="M202.00,580.85 L203.85,582.70 L202.00,584.55 L200.15,582.70Z" fill="#5b2c0f"/>
<path d="M205.30,581.65 L207.15,583.50 L205.30,585.35 L203.45,583.50Z" fill="#5b2c0f"/>
<path d="M208.10,584.15 L209.95,586.00 L208.10,587.85 L206.25,586.00Z" fill="#5b2c0f"/>
<path d="M202.80,586.65 L204.65,588.50 L202.80,590.35 L200.95,588.50Z" fill="#5b2c0f"/>
<line x1="201.00" y1="583.20" x2="209.60" y2="583.20" stroke="#1a1a1a" stroke-width="0.9"/>
<path d="M218.40,533.48 L220.25,536.68 L216.55,536.68Z" fill="#f5841f"/>
<path d="M222.80,535.68 L224.65,538.88 L220.95,538.88Z" fill="#f5841f"/>
<path d="M218.40,548.78 L220.25,551.98 L216.55,551.98Z" fill="#f5841f"/>
<path d="M223.30,545.48 L225.15,548.68 L221.45,548.68Z" fill="#f5841f"/>
<path d="M222.80,551.28 L224.65,554.48 L220.95,554.48Z" fill="#f5841f"/>
<path d="M220.90,565.08 L222.75,568.28 L219.05,568.28Z" fill="#f5841f"/>
<line x1="216.60" y1="548.30" x2="225.20" y2="548.30" stroke="#1a1a1a" stroke-width="0.9"/>
<path d="M233.70,569.52 L235.55,566.32 L231.85,566.32Z" fill="#d0021b"/>
<path d="M238.10,570.82 L239.95,567.62 L236.25,567.62Z" fill="#d0021b"/>
<path d="M236.50,574.12 L238.35,570.92 L234.65,570.92Z" fill="#d0021b"/>
<path d="M234.30,578.52 L236.15,575.32 L232.45,575.32Z" fill="#d0021b"/>
<path d="M238.90,580.92 L240.75,577.72 L237.05,577.72Z" fill="#d0021b"/>
<path d="M233.70,585.12 L235.55,581.92 L231.85,581.92Z" fill="#d0021b"/>
<line x1="232.60" y1="575.30" x2="241.20" y2="575.30" stroke="#1a1a1a" stroke-width="0.9"/>
<circle cx="248.80" cy="550.70" r="1.75" fill="#7aa1ca"/>
<circle cx="253.40" cy="549.10" r="1.75" fill="#7aa1ca"/>
<circle cx="248.40" cy="563.80" r="1.75" fill="#7aa1ca"/>
<circle cx="253.70" cy="559.70" r="1.75" fill="#7aa1ca"/>
<circle cx="249.10" cy="571.20" r="1.75" fill="#7aa1ca"/>
<circle cx="253.70" cy="566.80" r="1.75" fill="#7aa1ca"/>
<line x1="247.40" y1="561.70" x2="256.40" y2="561.70" stroke="#1a1a1a" stroke-width="0.9"/>
<line x1="218.70" y1="654.60" x2="257.10" y2="654.60" stroke="#4a4a4a" stroke-width="1.0"/>
<text x="237.90" y="664.40" font-size="8.2" text-anchor="middle" textLength="13.00" lengthAdjust="spacingAndGlyphs">LPS</text>
<text x="196.30" y="490.20" font-size="8.2" text-anchor="middle" textLength="17.40" lengthAdjust="spacingAndGlyphs">Lung</text>
<text x="277.40" y="484.00" font-size="12" font-weight="bold" fill="#000">K</text>
<line x1="311.20" y1="517.30" x2="311.20" y2="593.20" stroke="#231f20" stroke-width="1.35"/>
<line x1="307.50" y1="592.60" x2="311.20" y2="592.60" stroke="#231f20" stroke-width="1.0"/>
<line x1="309.00" y1="588.87" x2="311.20" y2="588.87" stroke="#231f20" stroke-width="0.9"/>
<line x1="309.00" y1="585.13" x2="311.20" y2="585.13" stroke="#231f20" stroke-width="0.9"/>
<line x1="309.00" y1="581.39" x2="311.20" y2="581.39" stroke="#231f20" stroke-width="0.9"/>
<line x1="309.00" y1="577.66" x2="311.20" y2="577.66" stroke="#231f20" stroke-width="0.9"/>
<line x1="307.50" y1="573.92" x2="311.20" y2="573.92" stroke="#231f20" stroke-width="1.0"/>
<line x1="309.00" y1="570.19" x2="311.20" y2="570.19" stroke="#231f20" stroke-width="0.9"/>
<line x1="309.00" y1="566.46" x2="311.20" y2="566.46" stroke="#231f20" stroke-width="0.9"/>
<line x1="309.00" y1="562.72" x2="311.20" y2="562.72" stroke="#231f20" stroke-width="0.9"/>
<line x1="309.00" y1="558.99" x2="311.20" y2="558.99" stroke="#231f20" stroke-width="0.9"/>
<line x1="307.50" y1="555.25" x2="311.20" y2="555.25" stroke="#231f20" stroke-width="1.0"/>
<line x1="309.00" y1="551.51" x2="311.20" y2="551.51" stroke="#231f20" stroke-width="0.9"/>
<line x1="309.00" y1="547.78" x2="311.20" y2="547.78" stroke="#231f20" stroke-width="0.9"/>
<line x1="309.00" y1="544.04" x2="311.20" y2="544.04" stroke="#231f20" stroke-width="0.9"/>
<line x1="309.00" y1="540.31" x2="311.20" y2="540.31" stroke="#231f20" stroke-width="0.9"/>
<line x1="307.50" y1="536.58" x2="311.20" y2="536.58" stroke="#231f20" stroke-width="1.0"/>
<line x1="309.00" y1="532.84" x2="311.20" y2="532.84" stroke="#231f20" stroke-width="0.9"/>
<line x1="309.00" y1="529.11" x2="311.20" y2="529.11" stroke="#231f20" stroke-width="0.9"/>
<line x1="309.00" y1="525.37" x2="311.20" y2="525.37" stroke="#231f20" stroke-width="0.9"/>
<line x1="309.00" y1="521.63" x2="311.20" y2="521.63" stroke="#231f20" stroke-width="0.9"/>
<line x1="307.50" y1="517.90" x2="311.20" y2="517.90" stroke="#231f20" stroke-width="1.0"/>
<text x="305.60" y="595.70" font-size="8.8" text-anchor="end" textLength="10.77" lengthAdjust="spacingAndGlyphs" class="tk">0.0</text>
<text x="305.60" y="576.23" font-size="8.8" text-anchor="end" textLength="10.77" lengthAdjust="spacingAndGlyphs" class="tk">0.3</text>
<text x="305.60" y="556.45" font-size="8.8" text-anchor="end" textLength="10.77" lengthAdjust="spacingAndGlyphs" class="tk">0.6</text>
<text x="305.60" y="536.97" font-size="8.8" text-anchor="end" textLength="10.77" lengthAdjust="spacingAndGlyphs" class="tk">0.9</text>
<text x="305.60" y="521.80" font-size="8.8" text-anchor="end" textLength="10.77" lengthAdjust="spacingAndGlyphs" class="tk">1.2</text>
<line x1="310.70" y1="592.60" x2="389.00" y2="592.60" stroke="#231f20" stroke-width="1.0"/>
<line x1="321.00" y1="592.60" x2="321.00" y2="595.80" stroke="#231f20" stroke-width="0.9"/>
<line x1="335.65" y1="592.60" x2="335.65" y2="595.80" stroke="#231f20" stroke-width="0.9"/>
<line x1="350.30" y1="592.60" x2="350.30" y2="595.80" stroke="#231f20" stroke-width="0.9"/>
<line x1="364.95" y1="592.60" x2="364.95" y2="595.80" stroke="#231f20" stroke-width="0.9"/>
<line x1="379.60" y1="592.60" x2="379.60" y2="595.80" stroke="#231f20" stroke-width="0.9"/>
<text transform="translate(323.85,598.50) rotate(-90)" font-size="8.2" text-anchor="end" textLength="20.80" lengthAdjust="spacingAndGlyphs">Saline</text>
<text transform="translate(338.50,598.50) rotate(-90)" font-size="8.2" text-anchor="end" textLength="26.80" lengthAdjust="spacingAndGlyphs">Y27632</text>
<text transform="translate(353.15,598.50) rotate(-90)" font-size="8.2" text-anchor="end" textLength="20.80" lengthAdjust="spacingAndGlyphs">Saline</text>
<text transform="translate(367.80,598.50) rotate(-90)" font-size="8.2" text-anchor="end" textLength="16.50" lengthAdjust="spacingAndGlyphs">FVIIa</text>
<text transform="translate(382.45,598.50) rotate(-90)" font-size="8.2" text-anchor="end" textLength="53.60" lengthAdjust="spacingAndGlyphs">Y27632 + FVIIa</text>
<text transform="translate(277.50,555.00) rotate(-90)" font-size="8.9" text-anchor="middle" textLength="73.00" lengthAdjust="spacingAndGlyphs">Vascular permeability</text>
<text transform="translate(287.90,556.00) rotate(-90)" font-size="8.9" text-anchor="middle" textLength="76.50" lengthAdjust="spacingAndGlyphs">corrected OD at 620 nm</text>
<polyline points="320.50,570.40 320.50,522.80 350.00,522.80 350.00,524.40" fill="none" stroke="#3a3a3a" stroke-width="0.9" stroke-linejoin="miter"/>
<use href="#st" x="329.95" y="518.90"/>
<use href="#st" x="333.45" y="518.90"/>
<use href="#st" x="336.95" y="518.90"/>
<use href="#st" x="340.45" y="518.90"/>
<polyline points="352.20,524.40 352.20,522.80 365.60,522.80 365.60,570.40" fill="none" stroke="#3a3a3a" stroke-width="0.9" stroke-linejoin="miter"/>
<use href="#st" x="353.45" y="518.90"/>
<use href="#st" x="356.95" y="518.90"/>
<use href="#st" x="360.45" y="518.90"/>
<use href="#st" x="363.95" y="518.90"/>
<polyline points="367.60,548.60 380.40,548.60 380.40,549.90" fill="none" stroke="#3a3a3a" stroke-width="0.9" stroke-linejoin="miter"/>
<use href="#st" x="370.30" y="544.50"/>
<use href="#st" x="373.80" y="544.50"/>
<use href="#st" x="377.30" y="544.50"/>
<polyline points="334.50,513.30 334.50,510.50 379.90,510.50 379.90,538.40" fill="none" stroke="#3a3a3a" stroke-width="0.9" stroke-linejoin="miter"/>
<use href="#st" x="351.75" y="506.60"/>
<use href="#st" x="355.25" y="506.60"/>
<use href="#st" x="358.75" y="506.60"/>
<use href="#st" x="362.25" y="506.60"/>
<polyline points="320.00,517.90 320.00,501.50 379.90,501.50 379.90,505.60" fill="none" stroke="#3a3a3a" stroke-width="0.9" stroke-linejoin="miter"/>
<use href="#st" x="346.50" y="497.40"/>
<use href="#st" x="350.00" y="497.40"/>
<use href="#st" x="353.50" y="497.40"/>
<circle cx="319.60" cy="576.80" r="1.75" fill="#27b34a"/>
<circle cx="322.60" cy="576.40" r="1.75" fill="#27b34a"/>
<circle cx="320.40" cy="579.40" r="1.75" fill="#27b34a"/>
<circle cx="323.20" cy="579.80" r="1.75" fill="#27b34a"/>
<circle cx="319.80" cy="582.40" r="1.75" fill="#27b34a"/>
<circle cx="322.80" cy="583.00" r="1.75" fill="#27b34a"/>
<line x1="316.80" y1="579.90" x2="325.60" y2="579.90" stroke="#1a1a1a" stroke-width="0.9"/>
<path d="M334.60,576.75 L336.45,578.60 L334.60,580.45 L332.75,578.60Z" fill="#5b2c0f"/>
<path d="M334.80,579.15 L336.65,581.00 L334.80,582.85 L332.95,581.00Z" fill="#5b2c0f"/>
<path d="M334.20,582.15 L336.05,584.00 L334.20,585.85 L332.35,584.00Z" fill="#5b2c0f"/>
<path d="M336.00,584.75 L337.85,586.60 L336.00,588.45 L334.15,586.60Z" fill="#5b2c0f"/>
<path d="M333.40,586.95 L335.25,588.80 L333.40,590.65 L331.55,588.80Z" fill="#5b2c0f"/>
<path d="M335.60,588.15 L337.45,590.00 L335.60,591.85 L333.75,590.00Z" fill="#5b2c0f"/>
<line x1="330.60" y1="586.50" x2="339.40" y2="586.50" stroke="#1a1a1a" stroke-width="0.9"/>
<path d="M350.00,527.48 L351.85,530.68 L348.15,530.68Z" fill="#f5841f"/>
<path d="M350.00,540.48 L351.85,543.68 L348.15,543.68Z" fill="#f5841f"/>
<path d="M347.80,545.08 L349.65,548.28 L345.95,548.28Z" fill="#f5841f"/>
<path d="M350.00,550.28 L351.85,553.48 L348.15,553.48Z" fill="#f5841f"/>
<path d="M352.20,550.28 L354.05,553.48 L350.35,553.48Z" fill="#f5841f"/>
<path d="M347.80,553.68 L349.65,556.88 L345.95,556.88Z" fill="#f5841f"/>
<line x1="345.80" y1="549.40" x2="354.60" y2="549.40" stroke="#1a1a1a" stroke-width="0.9"/>
<path d="M363.40,578.32 L365.25,575.12 L361.55,575.12Z" fill="#d0021b"/>
<path d="M366.20,578.92 L368.05,575.72 L364.35,575.72Z" fill="#d0021b"/>
<path d="M364.20,580.92 L366.05,577.72 L362.35,577.72Z" fill="#d0021b"/>
<path d="M366.80,581.52 L368.65,578.32 L364.95,578.32Z" fill="#d0021b"/>
<path d="M364.60,588.52 L366.45,585.32 L362.75,585.32Z" fill="#d0021b"/>
<line x1="360.60" y1="579.40" x2="369.40" y2="579.40" stroke="#1a1a1a" stroke-width="0.9"/>
<circle cx="381.20" cy="555.40" r="1.75" fill="#7aa1ca"/>
<circle cx="378.80" cy="560.00" r="1.75" fill="#7aa1ca"/>
<circle cx="381.20" cy="564.00" r="1.75" fill="#7aa1ca"/>
<circle cx="377.20" cy="569.80" r="1.75" fill="#7aa1ca"/>
<circle cx="381.20" cy="569.60" r="1.75" fill="#7aa1ca"/>
<line x1="375.40" y1="565.50" x2="384.20" y2="565.50" stroke="#1a1a1a" stroke-width="0.9"/>
<line x1="346.20" y1="654.20" x2="383.80" y2="654.20" stroke="#4a4a4a" stroke-width="1.0"/>
<text x="364.60" y="664.40" font-size="8.2" text-anchor="middle" textLength="13.00" lengthAdjust="spacingAndGlyphs">LPS</text>
<text x="338.00" y="490.10" font-size="8.2" text-anchor="middle" textLength="19.60" lengthAdjust="spacingAndGlyphs">Heart</text>
<rect x="0" y="0" width="520" height="1.1" fill="#1e1a1b"/>
<rect x="0" y="0" width="1.1" height="671" fill="#1e1a1b"/>
<rect x="518.8" y="0" width="1.2" height="671" fill="#1e1a1b"/>
<rect x="0" y="669.6" width="520" height="1.4" fill="#1e1a1b"/>
</svg>
</body></html>
